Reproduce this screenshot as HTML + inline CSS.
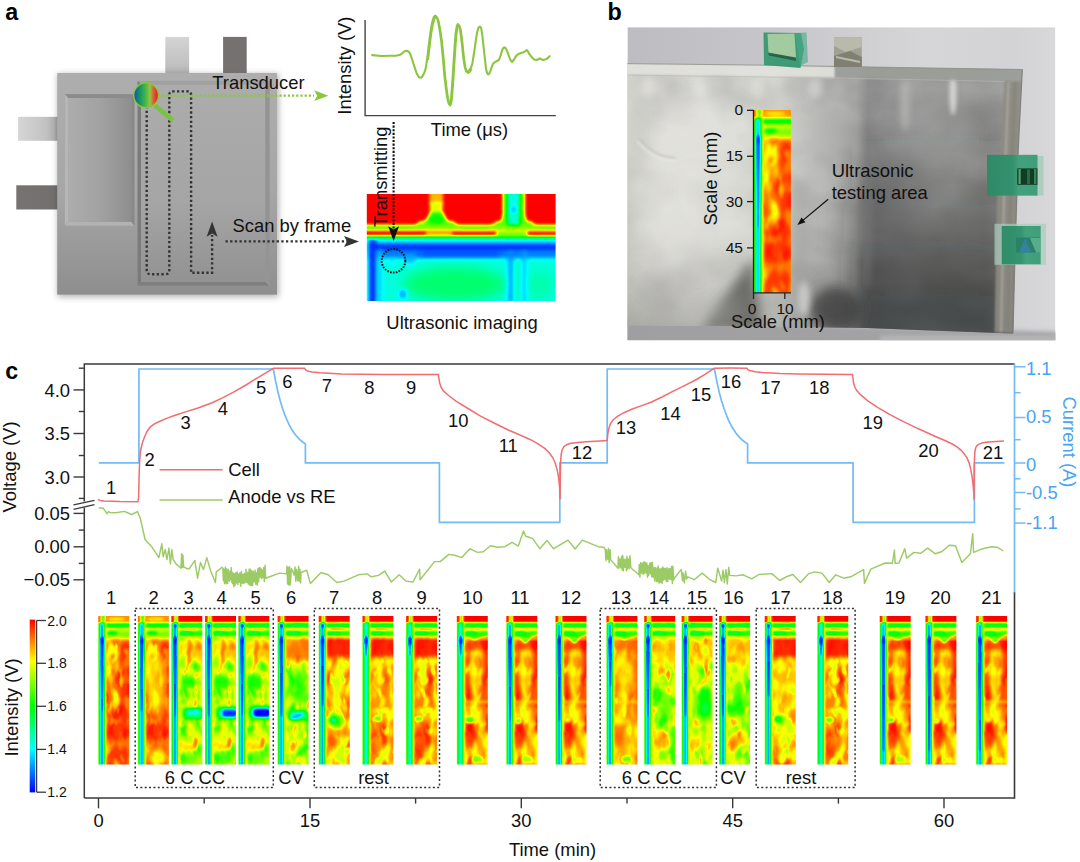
<!DOCTYPE html>
<html><head><meta charset="utf-8"><title>figure</title>
<style>
html,body{margin:0;padding:0;background:#fff;}
body{width:1080px;height:862px;overflow:hidden;}
svg{display:block;}
text{font-family:"Liberation Sans",sans-serif;}
</style></head><body>
<svg width="1080" height="862" viewBox="0 0 1080 862">
<defs>
<filter id="jet" color-interpolation-filters="sRGB" x="-5%" y="-5%" width="110%" height="110%">
<feGaussianBlur stdDeviation="0.7"/>
<feComponentTransfer><feFuncR type="table" tableValues="0 0 0 1 1"/><feFuncG type="table" tableValues="0 1 1 1 0"/><feFuncB type="table" tableValues="1 1 0 0 0"/><feFuncA type="linear" slope="50" intercept="0"/></feComponentTransfer>
</filter>
<filter id="jetA" color-interpolation-filters="sRGB" x="-5%" y="-5%" width="110%" height="110%">
<feGaussianBlur stdDeviation="1.3"/>
<feComponentTransfer><feFuncR type="table" tableValues="0 0 0 1 1"/><feFuncG type="table" tableValues="0 1 1 1 0"/><feFuncB type="table" tableValues="1 1 0 0 0"/><feFuncA type="linear" slope="50" intercept="0"/></feComponentTransfer>
</filter>
<filter id="jetB" color-interpolation-filters="sRGB" x="-5%" y="-5%" width="110%" height="110%">
<feGaussianBlur stdDeviation="0.85"/>
<feComponentTransfer><feFuncR type="table" tableValues="0 0 0 1 1"/><feFuncG type="table" tableValues="0 1 1 1 0"/><feFuncB type="table" tableValues="1 1 0 0 0"/><feFuncA type="linear" slope="50" intercept="0"/></feComponentTransfer>
</filter>
<filter id="b1" x="-50%" y="-50%" width="200%" height="200%"><feGaussianBlur stdDeviation="1"/></filter>
<filter id="b2" x="-50%" y="-50%" width="200%" height="200%"><feGaussianBlur stdDeviation="2"/></filter>
<filter id="b3" x="-50%" y="-50%" width="200%" height="200%"><feGaussianBlur stdDeviation="3"/></filter>
<filter id="b6" x="-50%" y="-50%" width="200%" height="200%"><feGaussianBlur stdDeviation="6"/></filter>
<filter id="b12" x="-50%" y="-50%" width="200%" height="200%"><feGaussianBlur stdDeviation="12"/></filter>
<filter id="b20" x="-50%" y="-50%" width="200%" height="200%"><feGaussianBlur stdDeviation="20"/></filter>
<linearGradient id="cbar" x1="0" y1="1" x2="0" y2="0"><stop offset="0" stop-color="#0000ff"/><stop offset="0.25" stop-color="#00ffff"/><stop offset="0.5" stop-color="#00ff00"/><stop offset="0.76" stop-color="#ffff00"/><stop offset="1" stop-color="#ff0000"/></linearGradient>
<clipPath id="tclip"><rect x="0" y="0" width="31" height="148.4"/></clipPath>
<linearGradient id="bodyg" x1="0" y1="0" x2="0" y2="1"><stop offset="0" stop-color="#aeaeae"/><stop offset="0.55" stop-color="#a6a6a6"/><stop offset="1" stop-color="#8e8e8e"/></linearGradient>
<linearGradient id="lpanel" x1="0" y1="0" x2="1" y2="0"><stop offset="0" stop-color="#adadad"/><stop offset="0.5" stop-color="#a2a2a2"/><stop offset="1" stop-color="#8e8e8e"/></linearGradient>
<linearGradient id="rpanel" x1="0" y1="0" x2="0" y2="1"><stop offset="0" stop-color="#acacac"/><stop offset="0.6" stop-color="#a5a5a5"/><stop offset="1" stop-color="#929292"/></linearGradient>
<linearGradient id="ltab" x1="0" y1="0" x2="1" y2="0"><stop offset="0" stop-color="#d6d6d6"/><stop offset="0.7" stop-color="#c2c2c2"/><stop offset="0.9" stop-color="#b0b0b0"/><stop offset="1" stop-color="#9c9c9c"/></linearGradient>
<linearGradient id="ttab" x1="0" y1="0" x2="0" y2="1"><stop offset="0" stop-color="#d4d4d4"/><stop offset="0.7" stop-color="#c2c2c2"/><stop offset="1" stop-color="#b4b4b4"/></linearGradient>
<linearGradient id="dtab" x1="0" y1="0" x2="1" y2="0"><stop offset="0" stop-color="#777373"/><stop offset="0.85" stop-color="#736f6f"/><stop offset="1" stop-color="#666262"/></linearGradient>
<linearGradient id="lens" x1="0" y1="0" x2="1" y2="0"><stop offset="0.05" stop-color="#0a62a4"/><stop offset="0.3" stop-color="#1fa055"/><stop offset="0.5" stop-color="#4fb848"/><stop offset="0.66" stop-color="#94c83d"/><stop offset="0.78" stop-color="#d9683a"/><stop offset="0.95" stop-color="#e6232a"/></linearGradient>
<clipPath id="aclip"><rect x="366.8" y="194.1" width="188.8" height="106.8"/></clipPath>
<clipPath id="bclip"><rect x="627.4" y="27.2" width="428.0000000000001" height="313.1"/></clipPath>
<linearGradient id="tableg" x1="0" y1="0" x2="1" y2="0"><stop offset="0" stop-color="#bdbcc0"/><stop offset="0.35" stop-color="#c7c6ca"/><stop offset="0.7" stop-color="#d6d6d8"/><stop offset="0.9" stop-color="#d3d3d5"/><stop offset="1" stop-color="#d8d8da"/></linearGradient>
<linearGradient id="pouchg" gradientUnits="userSpaceOnUse" x1="627" y1="0" x2="1022" y2="0"><stop offset="0" stop-color="#d4d4ce"/><stop offset="0.10" stop-color="#dddcd7"/><stop offset="0.30" stop-color="#dbdbd5"/><stop offset="0.385" stop-color="#d3d3ce"/><stop offset="0.425" stop-color="#c4c4c0"/><stop offset="0.47" stop-color="#b7b7b4"/><stop offset="0.53" stop-color="#a9a9a7"/><stop offset="0.58" stop-color="#9f9f9d"/><stop offset="0.61" stop-color="#838383"/><stop offset="0.66" stop-color="#8b8b8b"/><stop offset="0.78" stop-color="#919190"/><stop offset="0.9" stop-color="#8a8a89"/><stop offset="1" stop-color="#979893"/></linearGradient>
<linearGradient id="pouchv" x1="0" y1="0" x2="0" y2="1"><stop offset="0" stop-color="#fff" stop-opacity="0.10"/><stop offset="0.45" stop-color="#fff" stop-opacity="0"/><stop offset="0.7" stop-color="#000" stop-opacity="0.05"/><stop offset="1" stop-color="#000" stop-opacity="0.22"/></linearGradient>
<linearGradient id="tape" x1="0" y1="0" x2="1" y2="0"><stop offset="0" stop-color="#2a8a66"/><stop offset="0.5" stop-color="#2f916c"/><stop offset="0.62" stop-color="#3d9f79"/><stop offset="1" stop-color="#3b9b76"/></linearGradient>
<linearGradient id="rdark" gradientUnits="userSpaceOnUse" x1="0" y1="90" x2="0" y2="335"><stop offset="0" stop-color="#2a2c2c" stop-opacity="0"/><stop offset="0.25" stop-color="#2a2c2c" stop-opacity="0.10"/><stop offset="0.45" stop-color="#2a2c2c" stop-opacity="0.22"/><stop offset="0.65" stop-color="#2a2c2c" stop-opacity="0.42"/><stop offset="0.85" stop-color="#2a2c2c" stop-opacity="0.56"/><stop offset="1" stop-color="#2a2c2c" stop-opacity="0.60"/></linearGradient>
<filter id="wr" x="0" y="0" width="1" height="1" color-interpolation-filters="sRGB"><feTurbulence type="fractalNoise" baseFrequency="0.012 0.02" numOctaves="3" seed="5"/><feColorMatrix type="matrix" values="0 0 0 0 1  0 0 0 0 1  0 0 0 0 1  1.6 0 0 0 -0.62"/></filter>
<filter id="wd" x="0" y="0" width="1" height="1" color-interpolation-filters="sRGB"><feTurbulence type="fractalNoise" baseFrequency="0.014 0.018" numOctaves="3" seed="9"/><feColorMatrix type="matrix" values="0 0 0 0 0.2  0 0 0 0 0.2  0 0 0 0 0.2  0 1.6 0 0 -0.66"/></filter>
<filter id="n0" x="0" y="0" width="1" height="1" color-interpolation-filters="sRGB"><feTurbulence type="fractalNoise" baseFrequency="0.14 0.075" numOctaves="1" seed="3"/><feColorMatrix type="matrix" values="0 0 0 0 0.750  0 0 0 0 0.750  0 0 0 0 0.750  4 0 0 0 -1.640"/></filter>
<filter id="n1" x="0" y="0" width="1" height="1" color-interpolation-filters="sRGB"><feTurbulence type="fractalNoise" baseFrequency="0.11 0.055" numOctaves="1" seed="4"/><feColorMatrix type="matrix" values="0 0 0 0 1.000  0 0 0 0 1.000  0 0 0 0 1.000  0 4 0 0 -2.120"/></filter>
<filter id="n2" x="0" y="0" width="1" height="1" color-interpolation-filters="sRGB"><feTurbulence type="fractalNoise" baseFrequency="0.19 0.1" numOctaves="1" seed="5"/><feColorMatrix type="matrix" values="0 0 0 0 0.700  0 0 0 0 0.700  0 0 0 0 0.700  0 0 4 0 -2.240"/></filter>
<filter id="n3" x="0" y="0" width="1" height="1" color-interpolation-filters="sRGB"><feTurbulence type="fractalNoise" baseFrequency="0.12 0.07" numOctaves="1" seed="11"/><feColorMatrix type="matrix" values="0 0 0 0 0.530  0 0 0 0 0.530  0 0 0 0 0.530  4 0 0 0 -1.840"/></filter>
<filter id="n4" x="0" y="0" width="1" height="1" color-interpolation-filters="sRGB"><feTurbulence type="fractalNoise" baseFrequency="0.14 0.08" numOctaves="1" seed="12"/><feColorMatrix type="matrix" values="0 0 0 0 0.900  0 0 0 0 0.900  0 0 0 0 0.900  0 4 0 0 -2.160"/></filter>
<filter id="n5" x="0" y="0" width="1" height="1" color-interpolation-filters="sRGB"><feTurbulence type="fractalNoise" baseFrequency="0.2 0.11" numOctaves="1" seed="13"/><feColorMatrix type="matrix" values="0 0 0 0 0.620  0 0 0 0 0.620  0 0 0 0 0.620  0 0 4 0 -2.200"/></filter>
<filter id="n6" x="0" y="0" width="1" height="1" color-interpolation-filters="sRGB"><feTurbulence type="fractalNoise" baseFrequency="0.12 0.07" numOctaves="1" seed="12"/><feColorMatrix type="matrix" values="0 0 0 0 0.530  0 0 0 0 0.530  0 0 0 0 0.530  4 0 0 0 -1.840"/></filter>
<filter id="n7" x="0" y="0" width="1" height="1" color-interpolation-filters="sRGB"><feTurbulence type="fractalNoise" baseFrequency="0.14 0.08" numOctaves="1" seed="13"/><feColorMatrix type="matrix" values="0 0 0 0 0.900  0 0 0 0 0.900  0 0 0 0 0.900  0 4 0 0 -2.160"/></filter>
<filter id="n8" x="0" y="0" width="1" height="1" color-interpolation-filters="sRGB"><feTurbulence type="fractalNoise" baseFrequency="0.2 0.11" numOctaves="1" seed="14"/><feColorMatrix type="matrix" values="0 0 0 0 0.620  0 0 0 0 0.620  0 0 0 0 0.620  0 0 4 0 -2.200"/></filter>
<filter id="n9" x="0" y="0" width="1" height="1" color-interpolation-filters="sRGB"><feTurbulence type="fractalNoise" baseFrequency="0.14 0.075" numOctaves="1" seed="21"/><feColorMatrix type="matrix" values="0 0 0 0 0.740  0 0 0 0 0.740  0 0 0 0 0.740  4 0 0 0 -1.600"/></filter>
<filter id="n10" x="0" y="0" width="1" height="1" color-interpolation-filters="sRGB"><feTurbulence type="fractalNoise" baseFrequency="0.11 0.055" numOctaves="1" seed="22"/><feColorMatrix type="matrix" values="0 0 0 0 1.000  0 0 0 0 1.000  0 0 0 0 1.000  0 4 0 0 -2.160"/></filter>
<filter id="n11" x="0" y="0" width="1" height="1" color-interpolation-filters="sRGB"><feTurbulence type="fractalNoise" baseFrequency="0.19 0.1" numOctaves="1" seed="23"/><feColorMatrix type="matrix" values="0 0 0 0 0.680  0 0 0 0 0.680  0 0 0 0 0.680  0 0 4 0 -2.200"/></filter>
<filter id="n12" x="0" y="0" width="1" height="1" color-interpolation-filters="sRGB"><feTurbulence type="fractalNoise" baseFrequency="0.14 0.075" numOctaves="1" seed="22"/><feColorMatrix type="matrix" values="0 0 0 0 0.740  0 0 0 0 0.740  0 0 0 0 0.740  4 0 0 0 -1.600"/></filter>
<filter id="n13" x="0" y="0" width="1" height="1" color-interpolation-filters="sRGB"><feTurbulence type="fractalNoise" baseFrequency="0.11 0.055" numOctaves="1" seed="23"/><feColorMatrix type="matrix" values="0 0 0 0 1.000  0 0 0 0 1.000  0 0 0 0 1.000  0 4 0 0 -2.160"/></filter>
<filter id="n14" x="0" y="0" width="1" height="1" color-interpolation-filters="sRGB"><feTurbulence type="fractalNoise" baseFrequency="0.19 0.1" numOctaves="1" seed="24"/><feColorMatrix type="matrix" values="0 0 0 0 0.680  0 0 0 0 0.680  0 0 0 0 0.680  0 0 4 0 -2.200"/></filter>
<filter id="n15" x="0" y="0" width="1" height="1" color-interpolation-filters="sRGB"><feTurbulence type="fractalNoise" baseFrequency="0.14 0.075" numOctaves="1" seed="31"/><feColorMatrix type="matrix" values="0 0 0 0 0.750  0 0 0 0 0.750  0 0 0 0 0.750  4 0 0 0 -1.600"/></filter>
<filter id="n16" x="0" y="0" width="1" height="1" color-interpolation-filters="sRGB"><feTurbulence type="fractalNoise" baseFrequency="0.11 0.055" numOctaves="1" seed="32"/><feColorMatrix type="matrix" values="0 0 0 0 1.000  0 0 0 0 1.000  0 0 0 0 1.000  0 4 0 0 -2.200"/></filter>
<filter id="n17" x="0" y="0" width="1" height="1" color-interpolation-filters="sRGB"><feTurbulence type="fractalNoise" baseFrequency="0.19 0.1" numOctaves="1" seed="33"/><feColorMatrix type="matrix" values="0 0 0 0 0.700  0 0 0 0 0.700  0 0 0 0 0.700  0 0 4 0 -2.200"/></filter>
<filter id="n18" x="0" y="0" width="1" height="1" color-interpolation-filters="sRGB"><feTurbulence type="fractalNoise" baseFrequency="0.14 0.075" numOctaves="1" seed="32"/><feColorMatrix type="matrix" values="0 0 0 0 0.750  0 0 0 0 0.750  0 0 0 0 0.750  4 0 0 0 -1.600"/></filter>
<filter id="n19" x="0" y="0" width="1" height="1" color-interpolation-filters="sRGB"><feTurbulence type="fractalNoise" baseFrequency="0.11 0.055" numOctaves="1" seed="33"/><feColorMatrix type="matrix" values="0 0 0 0 1.000  0 0 0 0 1.000  0 0 0 0 1.000  0 4 0 0 -2.200"/></filter>
<filter id="n20" x="0" y="0" width="1" height="1" color-interpolation-filters="sRGB"><feTurbulence type="fractalNoise" baseFrequency="0.19 0.1" numOctaves="1" seed="34"/><feColorMatrix type="matrix" values="0 0 0 0 0.700  0 0 0 0 0.700  0 0 0 0 0.700  0 0 4 0 -2.200"/></filter>
<filter id="n21" x="0" y="0" width="1" height="1" color-interpolation-filters="sRGB"><feTurbulence type="fractalNoise" baseFrequency="0.12 0.07" numOctaves="1" seed="41"/><feColorMatrix type="matrix" values="0 0 0 0 0.530  0 0 0 0 0.530  0 0 0 0 0.530  4 0 0 0 -1.840"/></filter>
<filter id="n22" x="0" y="0" width="1" height="1" color-interpolation-filters="sRGB"><feTurbulence type="fractalNoise" baseFrequency="0.14 0.08" numOctaves="1" seed="42"/><feColorMatrix type="matrix" values="0 0 0 0 0.900  0 0 0 0 0.900  0 0 0 0 0.900  0 4 0 0 -2.160"/></filter>
<filter id="n23" x="0" y="0" width="1" height="1" color-interpolation-filters="sRGB"><feTurbulence type="fractalNoise" baseFrequency="0.2 0.11" numOctaves="1" seed="43"/><feColorMatrix type="matrix" values="0 0 0 0 0.620  0 0 0 0 0.620  0 0 0 0 0.620  0 0 4 0 -2.200"/></filter>
<filter id="n24" x="0" y="0" width="1" height="1" color-interpolation-filters="sRGB"><feTurbulence type="fractalNoise" baseFrequency="0.12 0.07" numOctaves="1" seed="42"/><feColorMatrix type="matrix" values="0 0 0 0 0.530  0 0 0 0 0.530  0 0 0 0 0.530  4 0 0 0 -1.840"/></filter>
<filter id="n25" x="0" y="0" width="1" height="1" color-interpolation-filters="sRGB"><feTurbulence type="fractalNoise" baseFrequency="0.14 0.08" numOctaves="1" seed="43"/><feColorMatrix type="matrix" values="0 0 0 0 0.900  0 0 0 0 0.900  0 0 0 0 0.900  0 4 0 0 -2.160"/></filter>
<filter id="n26" x="0" y="0" width="1" height="1" color-interpolation-filters="sRGB"><feTurbulence type="fractalNoise" baseFrequency="0.2 0.11" numOctaves="1" seed="44"/><feColorMatrix type="matrix" values="0 0 0 0 0.620  0 0 0 0 0.620  0 0 0 0 0.620  0 0 4 0 -2.200"/></filter>
<filter id="n27" x="0" y="0" width="1" height="1" color-interpolation-filters="sRGB"><feTurbulence type="fractalNoise" baseFrequency="0.12 0.07" numOctaves="1" seed="43"/><feColorMatrix type="matrix" values="0 0 0 0 0.530  0 0 0 0 0.530  0 0 0 0 0.530  4 0 0 0 -1.840"/></filter>
<filter id="n28" x="0" y="0" width="1" height="1" color-interpolation-filters="sRGB"><feTurbulence type="fractalNoise" baseFrequency="0.14 0.08" numOctaves="1" seed="44"/><feColorMatrix type="matrix" values="0 0 0 0 0.900  0 0 0 0 0.900  0 0 0 0 0.900  0 4 0 0 -2.160"/></filter>
<filter id="n29" x="0" y="0" width="1" height="1" color-interpolation-filters="sRGB"><feTurbulence type="fractalNoise" baseFrequency="0.2 0.11" numOctaves="1" seed="45"/><feColorMatrix type="matrix" values="0 0 0 0 0.620  0 0 0 0 0.620  0 0 0 0 0.620  0 0 4 0 -2.200"/></filter>
<filter id="n30" x="0" y="0" width="1" height="1" color-interpolation-filters="sRGB"><feTurbulence type="fractalNoise" baseFrequency="0.14 0.075" numOctaves="1" seed="23"/><feColorMatrix type="matrix" values="0 0 0 0 0.740  0 0 0 0 0.740  0 0 0 0 0.740  4 0 0 0 -1.600"/></filter>
<filter id="n31" x="0" y="0" width="1" height="1" color-interpolation-filters="sRGB"><feTurbulence type="fractalNoise" baseFrequency="0.11 0.055" numOctaves="1" seed="24"/><feColorMatrix type="matrix" values="0 0 0 0 1.000  0 0 0 0 1.000  0 0 0 0 1.000  0 4 0 0 -2.160"/></filter>
<filter id="n32" x="0" y="0" width="1" height="1" color-interpolation-filters="sRGB"><feTurbulence type="fractalNoise" baseFrequency="0.19 0.1" numOctaves="1" seed="25"/><feColorMatrix type="matrix" values="0 0 0 0 0.680  0 0 0 0 0.680  0 0 0 0 0.680  0 0 4 0 -2.200"/></filter>
<linearGradient id="stripe" gradientUnits="userSpaceOnUse" x1="-0.5" y1="0" x2="9.5" y2="0"><stop offset="0.000" stop-color="rgb(163,163,163)" stop-opacity="1"/><stop offset="0.090" stop-color="rgb(145,145,145)" stop-opacity="1"/><stop offset="0.190" stop-color="rgb(120,120,120)" stop-opacity="1"/><stop offset="0.290" stop-color="rgb(69,69,69)" stop-opacity="1"/><stop offset="0.360" stop-color="rgb(43,43,43)" stop-opacity="1"/><stop offset="0.490" stop-color="rgb(43,43,43)" stop-opacity="1"/><stop offset="0.560" stop-color="rgb(69,69,69)" stop-opacity="1"/><stop offset="0.630" stop-color="rgb(117,117,117)" stop-opacity="1"/><stop offset="0.700" stop-color="rgb(153,153,153)" stop-opacity="1"/><stop offset="0.780" stop-color="rgb(184,184,184)" stop-opacity="0.7"/><stop offset="1.000" stop-color="rgb(199,199,199)" stop-opacity="0"/></linearGradient>
<linearGradient id="stripeC" gradientUnits="userSpaceOnUse" x1="-0.5" y1="0" x2="9.5" y2="0"><stop offset="0.000" stop-color="rgb(163,163,163)" stop-opacity="1"/><stop offset="0.090" stop-color="rgb(145,145,145)" stop-opacity="1"/><stop offset="0.190" stop-color="rgb(120,120,120)" stop-opacity="1"/><stop offset="0.290" stop-color="rgb(97,97,97)" stop-opacity="1"/><stop offset="0.360" stop-color="rgb(71,71,71)" stop-opacity="1"/><stop offset="0.490" stop-color="rgb(71,71,71)" stop-opacity="1"/><stop offset="0.560" stop-color="rgb(97,97,97)" stop-opacity="1"/><stop offset="0.630" stop-color="rgb(117,117,117)" stop-opacity="1"/><stop offset="0.700" stop-color="rgb(153,153,153)" stop-opacity="1"/><stop offset="0.780" stop-color="rgb(184,184,184)" stop-opacity="0.7"/><stop offset="1.000" stop-color="rgb(199,199,199)" stop-opacity="0"/></linearGradient>
</defs>
<g clip-path="url(#bclip)">
<rect x="627.4" y="27.2" width="428.0000000000001" height="313.1" fill="url(#tableg)"/>
<path d="M620,320 L830,326 L1060,332 L1060,346 L620,346 Z" fill="#9a9a9d" opacity="0.85" filter="url(#b2)"/>
<rect x="880" y="335" width="190" height="10" fill="#b8b8ba" opacity="0.8" filter="url(#b2)"/>
<path d="M620,63.4 L760,65 L900,67.4 L1022.5,69.4 L1018.2,150 L1014.6,270 L1013,333.5 L930,330.5 L867,328 L750,326.6 L620,325.3 Z" fill="url(#pouchg)"/>
<path d="M620,63.4 L760,65 L900,67.4 L1022.5,69.4 L1018.2,150 L1014.6,270 L1013,333.5 L930,330.5 L867,328 L750,326.6 L620,325.3 Z" fill="url(#pouchv)"/>
<clipPath id="pclip"><path d="M620,63.4 L760,65 L900,67.4 L1022.5,69.4 L1018.2,150 L1014.6,270 L1013,333.5 L930,330.5 L867,328 L750,326.6 L620,325.3 Z"/></clipPath>
<g clip-path="url(#pclip)">
<rect x="627.4" y="27.2" width="428.0000000000001" height="313.1" filter="url(#wr)" opacity="0.22"/>
<rect x="627.4" y="27.2" width="428.0000000000001" height="313.1" filter="url(#wd)" opacity="0.22"/>
<ellipse cx="690" cy="195" rx="55" ry="80" fill="#e4e4df" opacity="0.55" filter="url(#b20)"/>
<rect x="852" y="80" width="160" height="270" fill="url(#rdark)" filter="url(#b12)"/>
<ellipse cx="836" cy="309" rx="26" ry="22" fill="#3c3d3d" opacity="0.8" filter="url(#b6)"/>
<path d="M752,258 L762,330 L700,330 L728,292 Z" fill="#50504e" opacity="0.75" filter="url(#b6)"/>
<ellipse cx="868" cy="200" rx="4" ry="90" fill="#7c7c7c" opacity="0.5" filter="url(#b3)"/>
<ellipse cx="935" cy="130" rx="38" ry="40" fill="#a6a8a6" opacity="0.45" filter="url(#b12)"/>
<ellipse cx="953" cy="95" rx="3.5" ry="20" fill="#e6e6e4" opacity="0.8" filter="url(#b2)"/>
<ellipse cx="905" cy="105" rx="5" ry="26" fill="#c4c4c2" opacity="0.55" filter="url(#b3)"/>
<ellipse cx="804" cy="299" rx="6" ry="17" fill="#d8d8d4" opacity="0.75" filter="url(#b3)"/>
<ellipse cx="690" cy="312" rx="55" ry="12" fill="#bdbdb8" opacity="0.55" filter="url(#b12)"/>
<ellipse cx="640" cy="130" rx="10" ry="40" fill="#c2c2bd" opacity="0.5" filter="url(#b6)"/>
<ellipse cx="800" cy="230" rx="10" ry="50" fill="#8f8f8d" opacity="0.35" filter="url(#b6)"/>
<ellipse cx="648" cy="88" rx="7" ry="10" fill="#ecece7" opacity="0.38" filter="url(#b3)"/>
<ellipse cx="672" cy="88" rx="7" ry="10" fill="#b9b9b4" opacity="0.38" filter="url(#b3)"/>
<ellipse cx="700" cy="88" rx="7" ry="10" fill="#ecece7" opacity="0.38" filter="url(#b3)"/>
<ellipse cx="727" cy="88" rx="7" ry="10" fill="#b9b9b4" opacity="0.38" filter="url(#b3)"/>
<ellipse cx="757" cy="88" rx="7" ry="10" fill="#ecece7" opacity="0.38" filter="url(#b3)"/>
<ellipse cx="790" cy="88" rx="7" ry="10" fill="#b9b9b4" opacity="0.38" filter="url(#b3)"/>
<ellipse cx="815" cy="88" rx="7" ry="10" fill="#ecece7" opacity="0.38" filter="url(#b3)"/>
<ellipse cx="838" cy="88" rx="7" ry="10" fill="#b9b9b4" opacity="0.38" filter="url(#b3)"/>
<path d="M639,139 C650,152 662,158 676,158" stroke="#bdbdb8" stroke-width="2" fill="none" opacity="0.6" filter="url(#b1)"/>
<path d="M637,141 C649,155 662,161 676,161" stroke="#ecece8" stroke-width="2" fill="none" opacity="0.6" filter="url(#b1)"/>
<path d="M620,63.4 L760,65 L835,66.3 L835,77.5 L760,76 L620,74.2 Z" fill="#e2e2dd" opacity="0.9" filter="url(#b1)"/>
<path d="M835,66.3 L1022.5,69.4 L1022,81.5 L835,77.5 Z" fill="#9c9e99" opacity="0.85" filter="url(#b1)"/>
<path d="M835,78 L1005,81.5" stroke="#b9bab5" stroke-width="1.2" opacity="0.6"/>
<path d="M620,75 L835,78" stroke="#bdbdb8" stroke-width="1.2" opacity="0.7"/>
<path d="M1004.5,81 L1022,81.5 L1018.2,150 L1014.6,270 L1013,333 L994.5,332.5 L997,200 Z" fill="#8d8b82" opacity="0.9" filter="url(#b1)"/>
<path d="M1008.5,82 L1004,200 L1001,332" stroke="#b3b2aa" stroke-width="2.2" fill="none" opacity="0.7" filter="url(#b1)"/>
<path d="M1015,82 L1010.5,200 L1008,332" stroke="#7b7d78" stroke-width="1.6" fill="none" opacity="0.7" filter="url(#b1)"/>
</g>
<path d="M627,63.6 L760,65.1 L900,67.5 L1022.5,69.5" stroke="#8d8d8a" stroke-width="1" fill="none" opacity="0.8"/>
<path d="M1022.3,69.5 L1018.2,150 L1014.6,270 L1013,333" stroke="#7c7d79" stroke-width="1.2" fill="none" opacity="0.9"/>
<path d="M763.5,32.5 L801,33 L804,49 L800.5,68 L764,65 Z" fill="#32976f" opacity="0.92"/>
<path d="M767.5,34 L794.5,33.5 L796,58 L768.5,53.5 Z" fill="#a3cba0"/>
<path d="M768,52.5 L796,57.5 L796,61 L769,55.5 Z" fill="#1f5a44" opacity="0.85"/>
<path d="M795,33 L806.5,32.6 L808,62 L800,66 Z" fill="#4aa888" opacity="0.6"/>
<rect x="834" y="37.2" width="27.8" height="30" fill="#a1a193"/>
<path d="M834,37.2 H861.8 V47 L846,52 L834,46 Z" fill="#b9b9ac"/>
<path d="M834,56 L850,51 L861.8,57 V67 H834 Z" fill="#7b7c6f" opacity="0.9"/>
<path d="M836,57 L860,62" stroke="#c8c8bc" stroke-width="2" opacity="0.8"/>
<rect x="1017" y="156" width="26.5" height="39.5" fill="#9fcbb6" opacity="0.75"/>
<rect x="987" y="154.8" width="50.5" height="40.8" fill="url(#tape)" opacity="0.95"/>
<rect x="1017.2" y="168.4" width="20.2" height="16.4" fill="#123c26"/>
<rect x="1018.5" y="169" width="2.2" height="15" fill="#5fae78" opacity="0.9"/>
<rect x="1027" y="169.5" width="3" height="14.5" fill="#2f6e48" opacity="0.9"/>
<rect x="1034" y="169" width="2.4" height="15" fill="#3d8a5a" opacity="0.9"/>
<rect x="994.5" y="223.8" width="51.5" height="41" fill="#a9cdbd" opacity="0.7"/>
<rect x="1001.7" y="226" width="39" height="38.3" fill="url(#tape)" opacity="0.95"/>
<rect x="1016" y="237.5" width="24" height="15" fill="#2b806a"/>
<path d="M1019,252.5 L1025,238 L1031.5,252.5 Z" fill="#3382a6" opacity="0.9"/>
<path d="M1030,238 L1036,252.5 L1040,252.5 L1040,238 Z" fill="#5fb58e" opacity="0.85"/>
</g>
<g transform="translate(753.6,110.0) scale(1.2032,1.2318)" clip-path="url(#tclip)"><g filter="url(#jetB)">
<rect x="-4" y="-4" width="39.0" height="156.4" fill="rgb(227,227,227)"/>
<rect x="-3" y="-3" width="37.0" height="154.4" filter="url(#n0)"/>
<rect x="-3" y="-3" width="37.0" height="154.4" filter="url(#n1)"/>
<rect x="-3" y="-3" width="37.0" height="154.4" filter="url(#n2)"/>
<rect x="22" y="22" width="12" height="148.4" fill="rgb(255,255,255)" opacity="0.55" filter="url(#b2)"/>
<rect x="9" y="90" width="14" height="58.400000000000006" fill="rgb(255,255,255)" opacity="0.5" filter="url(#b3)"/>
<rect x="-4" y="-4" width="39.0" height="10.3" fill="rgb(219,219,219)"/>
<ellipse cx="18" cy="3" rx="9" ry="1.6" fill="rgb(189,189,189)" opacity="0.9" filter="url(#b1)"/>
<ellipse cx="5" cy="1.5" rx="2.0" ry="1.6" fill="rgb(153,153,153)" opacity="0.9" filter="url(#b1)"/>
<rect x="2" y="6.6" width="35.0" height="5.4" fill="rgb(140,140,140)" filter="url(#b1)"/>
<rect x="6" y="8.6" width="33.0" height="2.0" fill="rgb(102,102,102)" filter="url(#b1)"/>
<rect x="7" y="12.2" width="31.0" height="2.6" fill="rgb(189,189,189)" filter="url(#b1)"/>
<rect x="7" y="14" width="31.0" height="8" fill="rgb(153,153,153)" opacity="0.9" filter="url(#b2)"/>
<ellipse cx="14" cy="17" rx="6" ry="2.0" fill="rgb(117,117,117)" opacity="0.9" filter="url(#b1)"/>
<rect x="-0.5" y="6.5" width="10" height="148.4" fill="url(#stripe)"/>
<rect x="3.3" y="-2" width="2.8" height="10" fill="rgb(140,140,140)" filter="url(#b1)"/>
<rect x="-1" y="-2" width="2.0" height="9" fill="rgb(235,235,235)" filter="url(#b1)"/>
<path d="M3.9,19.5 C6.6,21 6.0,28 5.1,57.5 L4.4,95 L3.4,95 L2.7,57.5 C1.8,28 1.2,21 3.9,19.5 Z" fill="rgb(13,13,13)" filter="url(#b1)"/>
<ellipse cx="3.9" cy="24.5" rx="1.1" ry="3.6" fill="rgb(0,0,0)" filter="url(#b1)"/>
</g></g>
<path d="M753.5,110 V292.9 H791" fill="none" stroke="#222" stroke-width="1.3"/>
<path d="M747,110.3 H753.5" stroke="#222" stroke-width="1.3"/>
<path d="M747,156.3 H753.5" stroke="#222" stroke-width="1.3"/>
<path d="M747,201.6 H753.5" stroke="#222" stroke-width="1.3"/>
<path d="M747,247.9 H753.5" stroke="#222" stroke-width="1.3"/>
<path d="M753.5,292.9 V299" stroke="#222" stroke-width="1.3"/>
<path d="M784.8,292.9 V299" stroke="#222" stroke-width="1.3"/>
<path d="M828.2,199.3 L800.5,222.4" stroke="#111" stroke-width="1.2"/>
<path d="M797.4,225 L801.5,217.6 L805.4,222.3 Z" fill="#111"/>
<rect x="18.1" y="116.8" width="40" height="24" fill="url(#ltab)"/>
<rect x="16.3" y="185.3" width="42" height="24.2" fill="url(#dtab)"/>
<rect x="165.3" y="36.9" width="23.8" height="37" fill="url(#ttab)"/>
<rect x="223.1" y="36.9" width="23.6" height="37" fill="#757171"/>
<rect x="57.6" y="74" width="221" height="223" fill="#666" opacity="0.5" filter="url(#b3)"/>
<rect x="57.2" y="73" width="219.8" height="221.6" fill="url(#bodyg)"/>
<rect x="64.8" y="94.3" width="69.6" height="131.5" fill="#9b9b9b"/>
<path d="M64.8,94.3 H134.4 L131.2,98 H68 Z" fill="#8b8b8b"/>
<path d="M64.8,94.3 L68,98 V221.8 L64.8,225.8 Z" fill="#b6b6b6"/>
<path d="M64.8,225.8 L68,221.8 H131.2 L134.4,225.8 Z" fill="#b2b2b2"/>
<path d="M134.4,94.3 L131.2,98 V221.8 L134.4,225.8 Z" fill="#888"/>
<rect x="68" y="98" width="63.2" height="123.8" fill="url(#lpanel)"/>
<rect x="137.6" y="80.9" width="131.9" height="204.9" fill="#9a9a9a"/>
<path d="M137.6,80.9 H269.5 L265.2,84.6 H141.4 Z" fill="#a0a0a0"/>
<path d="M137.6,80.9 L141.4,84.6 V281.9 L137.6,285.8 Z" fill="#7b7b7b"/>
<path d="M137.6,285.8 L141.4,281.9 H265.2 L269.5,285.8 Z" fill="#7f7f7f"/>
<path d="M269.5,80.9 L265.2,84.6 V281.9 L269.5,285.8 Z" fill="#949494"/>
<rect x="141" y="84.6" width="124.2" height="197.3" fill="url(#rpanel)"/>
<path d="M146.7,106 V270.5 Q146.7,274.2 150.4,274.2 H165.6 Q169.3,274.2 169.3,270.5 V95 Q169.3,91.4 173,91.4 H187.5 Q191.1,91.4 191.1,95 V272.8 H212.1 V235" fill="none" stroke="#333" stroke-width="2.4" stroke-dasharray="2.3 2.35"/>
<path d="M212.1,221.5 L217.6,236.8 L212.1,233.6 L206.6,236.8 Z" fill="#333"/>
<path d="M225.5,241.4 H349" fill="none" stroke="#333" stroke-width="2.4" stroke-dasharray="2.3 2.35"/>
<path d="M359,241.4 L344,246.9 L347,241.4 L344,235.9 Z" fill="#333"/>
<path d="M155,105.5 L173,120.5" stroke="#7cc242" stroke-width="4.6"/>
<circle cx="146.1" cy="95.2" r="12.4" fill="url(#lens)" stroke="#8cc63f" stroke-width="1.4"/>
<path d="M161.8,95.7 H314" fill="none" stroke="#8cc63f" stroke-width="2.2" stroke-dasharray="2.2 2.0"/>
<path d="M328.4,95.7 L314.2,101.1 L317.2,95.7 L314.2,90.3 Z" fill="#8cc63f"/>
<path d="M365.1,20 V115.6 H555.8" fill="none" stroke="#444" stroke-width="1.4"/>
<polyline points="372.2,55.1 381.1,56.0 390.0,55.8 396.7,55.6 400.0,54.8 402.2,53.3 404.5,51.3 406.7,50.7 408.5,51.5 410.0,53.3 412.0,59.0 414.4,66.7 416.7,73.5 418.9,77.3 420.6,77.8 422.2,76.7 424.0,73.5 425.6,68.9 427.3,58.0 428.9,44.4 430.5,32.0 432.2,22.2 433.7,17.2 435.1,15.6 436.5,16.8 437.8,20.0 439.5,29.0 441.1,40.0 442.8,57.0 444.4,75.6 445.9,88.0 447.3,97.8 448.4,102.8 449.3,104.4 450.2,102.8 451.1,97.8 452.2,84.0 453.3,66.7 454.5,48.0 455.6,33.3 456.7,26.5 457.8,24.0 458.9,25.2 460.0,28.9 461.7,42.0 463.3,57.8 464.7,66.5 466.0,71.1 467.5,71.8 468.9,70.7 470.6,68.3 472.2,64.4 473.9,54.0 475.6,42.2 477.0,33.0 478.4,27.8 479.8,26.6 481.1,27.8 482.2,34.5 483.3,44.4 484.7,57.0 486.0,68.9 487.1,73.0 488.2,74.4 489.3,73.6 490.4,71.1 491.9,66.5 493.3,63.3 496.0,61.5 498.9,60.0 500.6,55.5 502.2,50.0 503.3,48.0 504.4,47.3 505.5,48.0 506.7,50.0 508.4,54.5 510.0,58.9 511.1,61.0 512.2,61.8 513.9,59.8 515.6,56.7 517.2,54.8 518.9,53.8 521.0,53.0 523.3,52.2 525.0,51.4 526.7,50.0 527.8,51.2 528.9,53.3 531.0,56.2 533.3,58.9 535.0,59.8 536.7,60.0 538.4,59.0 540.0,58.4 541.7,59.4 543.3,60.0 545.0,59.6 546.7,58.9 548.2,57.6 549.6,56.2" fill="none" stroke="#8cc63f" stroke-width="2.1" stroke-linejoin="round" stroke-linecap="round"/>
<polyline points="428.2,59.2 429.8,45.6 431.4,33.2 433.1,23.4 434.6,18.4 436.0,16.8 437.4,18.0 438.7,21.2 440.4,30.2 442.0,41.2 443.7,58.2 445.3,76.8 446.8,89.2 448.2,99.0 449.3,104.0 450.2,105.6 451.1,104.0 452.0,99.0 453.1,85.2 454.2,67.9 455.4,49.2 456.5,34.5 457.6,27.7 458.7,25.2 459.8,26.4 460.9,30.1 462.6,43.2 464.2,59.0 465.6,67.7 466.9,72.3 468.4,73.0 469.8,71.9 471.5,69.5" fill="none" stroke="#8cc63f" stroke-width="1.8" stroke-linejoin="round" stroke-linecap="round"/>
<g clip-path="url(#aclip)"><g filter="url(#jetA)"><rect x="360" y="188" width="200" height="120" fill="rgb(73,73,73)"/>
<ellipse cx="455" cy="284" rx="52" ry="17" fill="rgb(103,103,103)" opacity="0.9" filter="url(#b6)"/>
<ellipse cx="540" cy="285" rx="12" ry="14" fill="rgb(92,92,92)" opacity="0.7" filter="url(#b6)"/>
<rect x="360" y="188" width="200" height="38" fill="rgb(255,255,255)"/>
<rect x="429.5" y="190" width="13.5" height="14" fill="rgb(209,209,209)" filter="url(#b1)"/>
<rect x="430" y="202" width="12.5" height="9" fill="rgb(184,184,184)" filter="url(#b1)"/>
<path d="M408,230 C415,228 417,223 421,221.5 C425,223 428,218 431,211 L442,211 C445,218 448,223 452,221.5 C456,223 458,228 465,230 Z" fill="rgb(145,145,145)" filter="url(#b1)"/>
<ellipse cx="436.5" cy="219.5" rx="7.5" ry="5.5" fill="rgb(128,128,128)" filter="url(#b1)"/>
<ellipse cx="422.5" cy="223.5" rx="1.6" ry="1.4" fill="rgb(199,199,199)" opacity="0.9" filter="url(#b1)"/>
<rect x="503" y="190" width="21.5" height="38" fill="rgb(143,143,143)" filter="url(#b1)"/>
<rect x="507.8" y="190" width="11.6" height="42" fill="rgb(69,69,69)" filter="url(#b1)"/>
<rect x="510.5" y="206" width="6" height="14" fill="rgb(51,51,51)" opacity="0.8" filter="url(#b1)"/>
<path d="M485,230 C492,228 494,223 497.5,221.5 C500,223 502,221 504,215 L524,215 C526,221 527.5,223 530,221.5 C533.5,223 536,228 543,230 Z" fill="rgb(145,145,145)" filter="url(#b1)"/>
<rect x="507.8" y="214" width="11.6" height="15" fill="rgb(76,76,76)" filter="url(#b1)"/>
<rect x="360" y="225.0" width="200" height="4.4" fill="rgb(161,161,161)" filter="url(#b1)"/>
<rect x="360" y="229.2" width="200" height="2.2" fill="rgb(189,189,189)"/>
<rect x="360" y="231.0" width="200" height="5.0" fill="rgb(255,255,255)" filter="url(#b1)"/>
<rect x="360" y="231.6" width="66" height="3.8" fill="rgb(255,255,255)"/>
<rect x="452" y="232.0" width="42" height="3.4" fill="rgb(255,255,255)"/>
<rect x="528" y="232.4" width="32" height="3.2" fill="rgb(255,255,255)"/>
<rect x="426" y="231" width="26" height="5" fill="rgb(204,204,204)" opacity="0.8" filter="url(#b1)"/>
<rect x="497" y="230.8" width="30" height="5.4" fill="rgb(153,153,153)" opacity="0.95" filter="url(#b1)"/>
<rect x="360" y="236.4" width="200" height="2.8" fill="rgb(133,133,133)" filter="url(#b1)"/>
<rect x="360" y="239.2" width="200" height="3.4" fill="rgb(71,71,71)" filter="url(#b1)"/>
<rect x="360" y="242.2" width="200" height="15" fill="rgb(33,33,33)" filter="url(#b2)"/>
<rect x="360" y="244.6" width="200" height="6.0" fill="rgb(13,13,13)" filter="url(#b1)"/>
<rect x="360" y="252.5" width="200" height="5" fill="rgb(31,31,31)" opacity="0.8" filter="url(#b2)"/>
<rect x="420" y="250" width="80" height="6" fill="rgb(13,13,13)" opacity="0.7" filter="url(#b2)"/>
<rect x="366" y="240" width="3.2" height="70" fill="rgb(76,76,76)" filter="url(#b1)"/>
<rect x="369.0" y="240" width="7.4" height="70" fill="rgb(15,15,15)" filter="url(#b1)"/>
<rect x="376.5" y="250" width="6" height="60" fill="rgb(51,51,51)" opacity="0.9" filter="url(#b2)"/>
<rect x="508" y="250" width="5.5" height="60" fill="rgb(36,36,36)" opacity="0.9" filter="url(#b2)"/>
<rect x="522" y="250" width="4.5" height="60" fill="rgb(43,43,43)" opacity="0.85" filter="url(#b2)"/>
<rect x="515" y="262" width="5" height="48" fill="rgb(84,84,84)" opacity="0.7" filter="url(#b2)"/>
<ellipse cx="403" cy="294" rx="4" ry="5" fill="rgb(41,41,41)" opacity="0.9" filter="url(#b1)"/>
<ellipse cx="410" cy="259" rx="6" ry="5" fill="rgb(41,41,41)" opacity="0.85" filter="url(#b2)"/>
<ellipse cx="392" cy="262" rx="4" ry="3.5" fill="rgb(56,56,56)" opacity="0.8" filter="url(#b2)"/></g></g>
<path d="M393.6,122 V229" fill="none" stroke="#111" stroke-width="2.1" stroke-dasharray="2.1 1.5"/>
<path d="M393.6,241 L388.2,226.2 L393.6,229.4 L399,226.2 Z" fill="#111"/>
<circle cx="393.5" cy="260.8" r="11.8" fill="none" stroke="#111" stroke-width="2" stroke-dasharray="1.6 1.3"/>
<g transform="translate(98.3,616.1)" clip-path="url(#tclip)"><g filter="url(#jet)">
<rect x="-4" y="-4" width="39.0" height="156.4" fill="rgb(227,227,227)"/>
<rect x="-3" y="-3" width="37.0" height="154.4" filter="url(#n0)"/>
<rect x="-3" y="-3" width="37.0" height="154.4" filter="url(#n1)"/>
<rect x="-3" y="-3" width="37.0" height="154.4" filter="url(#n2)"/>
<rect x="22" y="22" width="12" height="148.4" fill="rgb(255,255,255)" opacity="0.55" filter="url(#b2)"/>
<rect x="9" y="90" width="14" height="58.400000000000006" fill="rgb(255,255,255)" opacity="0.5" filter="url(#b3)"/>
<rect x="-4" y="-4" width="39.0" height="10.3" fill="rgb(219,219,219)"/>
<ellipse cx="18" cy="3" rx="9" ry="1.6" fill="rgb(189,189,189)" opacity="0.9" filter="url(#b1)"/>
<ellipse cx="5" cy="1.5" rx="2.0" ry="1.6" fill="rgb(153,153,153)" opacity="0.9" filter="url(#b1)"/>
<rect x="2" y="6.6" width="35.0" height="5.4" fill="rgb(140,140,140)" filter="url(#b1)"/>
<rect x="6" y="8.6" width="33.0" height="2.0" fill="rgb(102,102,102)" filter="url(#b1)"/>
<rect x="7" y="12.2" width="31.0" height="2.6" fill="rgb(189,189,189)" filter="url(#b1)"/>
<rect x="7" y="14" width="31.0" height="8" fill="rgb(153,153,153)" opacity="0.9" filter="url(#b2)"/>
<ellipse cx="14" cy="17" rx="6" ry="2.0" fill="rgb(117,117,117)" opacity="0.9" filter="url(#b1)"/>
<rect x="-0.5" y="6.5" width="10" height="148.4" fill="url(#stripe)"/>
<rect x="3.3" y="-2" width="2.8" height="10" fill="rgb(140,140,140)" filter="url(#b1)"/>
<rect x="-1" y="-2" width="2.0" height="9" fill="rgb(235,235,235)" filter="url(#b1)"/>
<path d="M3.9,19.5 C6.6,21 6.0,28 5.1,57.5 L4.4,95 L3.4,95 L2.7,57.5 C1.8,28 1.2,21 3.9,19.5 Z" fill="rgb(13,13,13)" filter="url(#b1)"/>
<ellipse cx="3.9" cy="24.5" rx="1.1" ry="3.6" fill="rgb(0,0,0)" filter="url(#b1)"/>
</g></g>
<g transform="translate(137.9,616.1)" clip-path="url(#tclip)"><g filter="url(#jet)">
<rect x="-4" y="-4" width="39.0" height="156.4" fill="rgb(227,227,227)"/>
<rect x="-3" y="-3" width="37.0" height="154.4" filter="url(#n0)"/>
<rect x="-3" y="-3" width="37.0" height="154.4" filter="url(#n1)"/>
<rect x="-3" y="-3" width="37.0" height="154.4" filter="url(#n2)"/>
<rect x="22" y="22" width="12" height="148.4" fill="rgb(255,255,255)" opacity="0.55" filter="url(#b2)"/>
<rect x="9" y="90" width="14" height="58.400000000000006" fill="rgb(255,255,255)" opacity="0.5" filter="url(#b3)"/>
<ellipse cx="20" cy="70" rx="8" ry="34" fill="rgb(189,189,189)" opacity="0.6" filter="url(#b3)"/>
<ellipse cx="12" cy="60" rx="3" ry="30" fill="rgb(194,194,194)" opacity="0.6" filter="url(#b2)"/>
<ellipse cx="20" cy="141" rx="9" ry="8" fill="rgb(168,168,168)" opacity="0.75" filter="url(#b3)"/>
<rect x="-4" y="-4" width="39.0" height="10.3" fill="rgb(219,219,219)"/>
<ellipse cx="18" cy="3" rx="9" ry="1.6" fill="rgb(189,189,189)" opacity="0.9" filter="url(#b1)"/>
<ellipse cx="5" cy="1.5" rx="2.0" ry="1.6" fill="rgb(153,153,153)" opacity="0.9" filter="url(#b1)"/>
<rect x="2" y="6.6" width="35.0" height="5.4" fill="rgb(140,140,140)" filter="url(#b1)"/>
<rect x="6" y="8.6" width="33.0" height="2.0" fill="rgb(102,102,102)" filter="url(#b1)"/>
<rect x="7" y="12.2" width="31.0" height="2.6" fill="rgb(189,189,189)" filter="url(#b1)"/>
<rect x="7" y="14" width="31.0" height="8" fill="rgb(153,153,153)" opacity="0.9" filter="url(#b2)"/>
<ellipse cx="14" cy="17" rx="6" ry="2.0" fill="rgb(117,117,117)" opacity="0.9" filter="url(#b1)"/>
<rect x="-0.5" y="6.5" width="10" height="148.4" fill="url(#stripe)"/>
<rect x="3.3" y="-2" width="2.8" height="10" fill="rgb(140,140,140)" filter="url(#b1)"/>
<rect x="-1" y="-2" width="2.0" height="9" fill="rgb(235,235,235)" filter="url(#b1)"/>
<path d="M3.9,19.5 C6.6,21 6.0,28 5.1,57.5 L4.4,95 L3.4,95 L2.7,57.5 C1.8,28 1.2,21 3.9,19.5 Z" fill="rgb(10,10,10)" filter="url(#b1)"/>
<ellipse cx="3.9" cy="24.5" rx="1.1" ry="3.6" fill="rgb(0,0,0)" filter="url(#b1)"/>
</g></g>
<g transform="translate(171.3,616.1)" clip-path="url(#tclip)"><g filter="url(#jet)">
<rect x="-4" y="-4" width="39.0" height="156.4" fill="rgb(184,184,184)"/>
<rect x="-3" y="-3" width="37.0" height="154.4" filter="url(#n3)"/>
<rect x="-3" y="-3" width="37.0" height="154.4" filter="url(#n4)"/>
<rect x="-3" y="-3" width="37.0" height="154.4" filter="url(#n5)"/>
<rect x="8" y="21" width="31.0" height="24" fill="rgb(230,230,230)" opacity="0.5" filter="url(#b3)"/>
<ellipse cx="18" cy="66" rx="8" ry="6" fill="rgb(128,128,128)" opacity="0.9" filter="url(#b2)"/>
<rect x="12" y="92" width="20" height="11" fill="rgb(92,92,92)" filter="url(#b2)" rx="3"/>
<ellipse cx="22" cy="96" rx="6" ry="3" fill="rgb(71,71,71)" filter="url(#b1)"/>
<ellipse cx="11" cy="128" rx="5" ry="9" fill="rgb(224,224,224)" opacity="0.6" filter="url(#b3)"/>
<ellipse cx="20" cy="143" rx="9" ry="6" fill="rgb(143,143,143)" opacity="0.7" filter="url(#b2)"/>
<rect x="-4" y="-4" width="39.0" height="10.3" fill="rgb(255,255,255)"/>
<rect x="2" y="6.6" width="35.0" height="5.4" fill="rgb(140,140,140)" filter="url(#b1)"/>
<rect x="6" y="8.6" width="33.0" height="2.0" fill="rgb(92,92,92)" filter="url(#b1)"/>
<rect x="7" y="12.2" width="31.0" height="2.6" fill="rgb(189,189,189)" filter="url(#b1)"/>
<rect x="13" y="12.6" width="14" height="1.6" fill="rgb(235,235,235)" filter="url(#b1)"/>
<rect x="7" y="14.8" width="31.0" height="5.0" fill="rgb(133,133,133)" filter="url(#b1)"/>
<ellipse cx="15" cy="17.2" rx="7" ry="1.3" fill="rgb(97,97,97)" opacity="0.9" filter="url(#b1)"/>
<rect x="8" y="20.2" width="31.0" height="2.0" fill="rgb(184,184,184)" opacity="0.8" filter="url(#b1)"/>
<rect x="-0.5" y="6.5" width="10" height="148.4" fill="url(#stripe)"/>
<rect x="3.3" y="-2" width="2.8" height="10" fill="rgb(140,140,140)" filter="url(#b1)"/>
<rect x="-1" y="-2" width="2.0" height="9" fill="rgb(235,235,235)" filter="url(#b1)"/>
<path d="M3.9,19.5 C6.6,21 6.0,28 5.1,60.0 L4.4,100 L3.4,100 L2.7,60.0 C1.8,28 1.2,21 3.9,19.5 Z" fill="rgb(8,8,8)" filter="url(#b1)"/>
<ellipse cx="3.9" cy="24.5" rx="1.1" ry="3.6" fill="rgb(0,0,0)" filter="url(#b1)"/>
<ellipse cx="4.2" cy="9.6" rx="2.3" ry="1.8" fill="rgb(5,5,5)" opacity="0.9" filter="url(#b1)"/>
</g></g>
<g transform="translate(205.0,616.1)" clip-path="url(#tclip)"><g filter="url(#jet)">
<rect x="-4" y="-4" width="39.0" height="156.4" fill="rgb(184,184,184)"/>
<rect x="-3" y="-3" width="37.0" height="154.4" filter="url(#n3)"/>
<rect x="-3" y="-3" width="37.0" height="154.4" filter="url(#n4)"/>
<rect x="-3" y="-3" width="37.0" height="154.4" filter="url(#n5)"/>
<rect x="8" y="21" width="31.0" height="24" fill="rgb(230,230,230)" opacity="0.5" filter="url(#b3)"/>
<ellipse cx="17" cy="66" rx="9" ry="7" fill="rgb(128,128,128)" opacity="0.9" filter="url(#b2)"/>
<rect x="12" y="91" width="21" height="12" fill="rgb(84,84,84)" filter="url(#b2)" rx="3"/>
<rect x="17" y="93.5" width="15" height="7.5" fill="rgb(8,8,8)" filter="url(#b1)" rx="3"/>
<ellipse cx="12" cy="125" rx="6" ry="10" fill="rgb(224,224,224)" opacity="0.6" filter="url(#b3)"/>
<ellipse cx="20" cy="142" rx="9" ry="7" fill="rgb(133,133,133)" opacity="0.75" filter="url(#b2)"/>
<rect x="-4" y="-4" width="39.0" height="10.3" fill="rgb(255,255,255)"/>
<rect x="2" y="6.6" width="35.0" height="5.4" fill="rgb(140,140,140)" filter="url(#b1)"/>
<rect x="6" y="8.6" width="33.0" height="2.0" fill="rgb(92,92,92)" filter="url(#b1)"/>
<rect x="7" y="12.2" width="31.0" height="2.6" fill="rgb(189,189,189)" filter="url(#b1)"/>
<rect x="13" y="12.6" width="14" height="1.6" fill="rgb(235,235,235)" filter="url(#b1)"/>
<rect x="7" y="14.8" width="31.0" height="5.0" fill="rgb(133,133,133)" filter="url(#b1)"/>
<ellipse cx="15" cy="17.2" rx="7" ry="1.3" fill="rgb(97,97,97)" opacity="0.9" filter="url(#b1)"/>
<rect x="8" y="20.2" width="31.0" height="2.0" fill="rgb(184,184,184)" opacity="0.8" filter="url(#b1)"/>
<rect x="-0.5" y="6.5" width="10" height="148.4" fill="url(#stripe)"/>
<rect x="3.3" y="-2" width="2.8" height="10" fill="rgb(140,140,140)" filter="url(#b1)"/>
<rect x="-1" y="-2" width="2.0" height="9" fill="rgb(235,235,235)" filter="url(#b1)"/>
<path d="M3.9,19.5 C6.6,21 6.0,28 5.1,60.0 L4.4,100 L3.4,100 L2.7,60.0 C1.8,28 1.2,21 3.9,19.5 Z" fill="rgb(8,8,8)" filter="url(#b1)"/>
<ellipse cx="3.9" cy="24.5" rx="1.1" ry="3.6" fill="rgb(0,0,0)" filter="url(#b1)"/>
<ellipse cx="4.2" cy="9.6" rx="2.3" ry="1.8" fill="rgb(5,5,5)" filter="url(#b1)"/>
</g></g>
<g transform="translate(238.3,616.1)" clip-path="url(#tclip)"><g filter="url(#jet)">
<rect x="-4" y="-4" width="39.0" height="156.4" fill="rgb(184,184,184)"/>
<rect x="-3" y="-3" width="37.0" height="154.4" filter="url(#n3)"/>
<rect x="-3" y="-3" width="37.0" height="154.4" filter="url(#n4)"/>
<rect x="-3" y="-3" width="37.0" height="154.4" filter="url(#n5)"/>
<rect x="8" y="21" width="31.0" height="24" fill="rgb(230,230,230)" opacity="0.5" filter="url(#b3)"/>
<ellipse cx="16" cy="66" rx="9" ry="8" fill="rgb(128,128,128)" opacity="0.9" filter="url(#b2)"/>
<rect x="11" y="90" width="22" height="13" fill="rgb(84,84,84)" filter="url(#b2)" rx="3"/>
<rect x="15" y="92.5" width="17" height="8.5" fill="rgb(5,5,5)" filter="url(#b1)" rx="3"/>
<ellipse cx="12" cy="127" rx="6" ry="10" fill="rgb(224,224,224)" opacity="0.6" filter="url(#b3)"/>
<ellipse cx="20" cy="142" rx="9" ry="7" fill="rgb(140,140,140)" opacity="0.7" filter="url(#b2)"/>
<rect x="-4" y="-4" width="39.0" height="10.3" fill="rgb(255,255,255)"/>
<rect x="2" y="6.6" width="35.0" height="5.4" fill="rgb(140,140,140)" filter="url(#b1)"/>
<rect x="6" y="8.6" width="33.0" height="2.0" fill="rgb(92,92,92)" filter="url(#b1)"/>
<rect x="7" y="12.2" width="31.0" height="2.6" fill="rgb(189,189,189)" filter="url(#b1)"/>
<rect x="13" y="12.6" width="14" height="1.6" fill="rgb(235,235,235)" filter="url(#b1)"/>
<rect x="7" y="14.8" width="31.0" height="5.0" fill="rgb(133,133,133)" filter="url(#b1)"/>
<ellipse cx="15" cy="17.2" rx="7" ry="1.3" fill="rgb(97,97,97)" opacity="0.9" filter="url(#b1)"/>
<rect x="8" y="20.2" width="31.0" height="2.0" fill="rgb(184,184,184)" opacity="0.8" filter="url(#b1)"/>
<rect x="-0.5" y="6.5" width="10" height="148.4" fill="url(#stripe)"/>
<rect x="3.3" y="-2" width="2.8" height="10" fill="rgb(140,140,140)" filter="url(#b1)"/>
<rect x="-1" y="-2" width="2.0" height="9" fill="rgb(235,235,235)" filter="url(#b1)"/>
<path d="M3.9,19.5 C6.6,21 6.0,28 5.1,60.0 L4.4,100 L3.4,100 L2.7,60.0 C1.8,28 1.2,21 3.9,19.5 Z" fill="rgb(8,8,8)" filter="url(#b1)"/>
<ellipse cx="3.9" cy="24.5" rx="1.1" ry="3.6" fill="rgb(0,0,0)" filter="url(#b1)"/>
<ellipse cx="4.2" cy="9.6" rx="2.3" ry="1.8" fill="rgb(5,5,5)" filter="url(#b1)"/>
</g></g>
<g transform="translate(277.6,616.1)" clip-path="url(#tclip)"><g filter="url(#jet)">
<rect x="-4" y="-4" width="39.0" height="156.4" fill="rgb(184,184,184)"/>
<rect x="-3" y="-3" width="37.0" height="154.4" filter="url(#n6)"/>
<rect x="-3" y="-3" width="37.0" height="154.4" filter="url(#n7)"/>
<rect x="-3" y="-3" width="37.0" height="154.4" filter="url(#n8)"/>
<rect x="8" y="21" width="31.0" height="24" fill="rgb(230,230,230)" opacity="0.5" filter="url(#b3)"/>
<rect x="8" y="22" width="31.0" height="22" fill="rgb(242,242,242)" opacity="0.55" filter="url(#b2)"/>
<ellipse cx="20" cy="70" rx="9" ry="16" fill="rgb(128,128,128)" opacity="0.8" filter="url(#b3)"/>
<ellipse cx="20" cy="99" rx="10" ry="5.5" fill="rgb(87,87,87)" filter="url(#b2)"/>
<ellipse cx="19" cy="100" rx="7" ry="2.6" fill="rgb(41,41,41)" filter="url(#b1)" transform="rotate(-18 19 100)"/>
<ellipse cx="13" cy="128" rx="5" ry="9" fill="rgb(217,217,217)" opacity="0.5" filter="url(#b3)"/>
<rect x="-4" y="-4" width="39.0" height="10.3" fill="rgb(255,255,255)"/>
<rect x="2" y="6.6" width="35.0" height="5.4" fill="rgb(140,140,140)" filter="url(#b1)"/>
<rect x="6" y="8.6" width="33.0" height="2.0" fill="rgb(92,92,92)" filter="url(#b1)"/>
<rect x="7" y="12.2" width="31.0" height="2.6" fill="rgb(189,189,189)" filter="url(#b1)"/>
<rect x="13" y="12.6" width="14" height="1.6" fill="rgb(235,235,235)" filter="url(#b1)"/>
<rect x="7" y="14.8" width="31.0" height="5.0" fill="rgb(133,133,133)" filter="url(#b1)"/>
<ellipse cx="15" cy="17.2" rx="7" ry="1.3" fill="rgb(97,97,97)" opacity="0.9" filter="url(#b1)"/>
<rect x="8" y="20.2" width="31.0" height="2.0" fill="rgb(184,184,184)" opacity="0.8" filter="url(#b1)"/>
<rect x="-0.5" y="6.5" width="10" height="148.4" fill="url(#stripe)"/>
<rect x="3.3" y="-2" width="2.8" height="10" fill="rgb(140,140,140)" filter="url(#b1)"/>
<rect x="-1" y="-2" width="2.0" height="9" fill="rgb(235,235,235)" filter="url(#b1)"/>
<path d="M3.9,19.5 C6.6,21 6.0,28 5.1,60.0 L4.4,100 L3.4,100 L2.7,60.0 C1.8,28 1.2,21 3.9,19.5 Z" fill="rgb(8,8,8)" filter="url(#b1)"/>
<ellipse cx="3.9" cy="24.5" rx="1.1" ry="3.6" fill="rgb(0,0,0)" filter="url(#b1)"/>
<ellipse cx="4.2" cy="9.6" rx="2.3" ry="1.8" fill="rgb(5,5,5)" filter="url(#b1)"/>
</g></g>
<g transform="translate(318.7,616.1)" clip-path="url(#tclip)"><g filter="url(#jet)">
<rect x="-4" y="-4" width="39.0" height="156.4" fill="rgb(222,222,222)"/>
<rect x="-3" y="-3" width="37.0" height="154.4" filter="url(#n9)"/>
<rect x="-3" y="-3" width="37.0" height="154.4" filter="url(#n10)"/>
<rect x="-3" y="-3" width="37.0" height="154.4" filter="url(#n11)"/>
<rect x="7" y="21" width="31.0" height="20" fill="rgb(255,255,255)" opacity="0.85" filter="url(#b2)"/>
<ellipse cx="20" cy="62" rx="7" ry="18" fill="rgb(168,168,168)" opacity="0.6" filter="url(#b3)"/>
<ellipse cx="17" cy="105" rx="8" ry="8" fill="rgb(133,133,133)" opacity="0.95" filter="url(#b2)"/>
<ellipse cx="15" cy="104" rx="2.6" ry="2.2" fill="rgb(71,71,71)" filter="url(#b1)"/>
<ellipse cx="12" cy="125" rx="5" ry="14" fill="rgb(242,242,242)" opacity="0.6" filter="url(#b3)"/>
<ellipse cx="21" cy="138" rx="8" ry="9" fill="rgb(158,158,158)" opacity="0.7" filter="url(#b3)"/>
<rect x="-4" y="-4" width="39.0" height="10.3" fill="rgb(255,255,255)"/>
<rect x="2" y="6.6" width="35.0" height="5.4" fill="rgb(140,140,140)" filter="url(#b1)"/>
<rect x="6" y="8.6" width="33.0" height="2.0" fill="rgb(92,92,92)" filter="url(#b1)"/>
<rect x="7" y="12.2" width="31.0" height="2.6" fill="rgb(189,189,189)" filter="url(#b1)"/>
<rect x="13" y="12.6" width="14" height="1.6" fill="rgb(235,235,235)" filter="url(#b1)"/>
<rect x="7" y="14.8" width="31.0" height="5.0" fill="rgb(133,133,133)" filter="url(#b1)"/>
<ellipse cx="15" cy="17.2" rx="7" ry="1.3" fill="rgb(97,97,97)" opacity="0.9" filter="url(#b1)"/>
<rect x="8" y="20.2" width="31.0" height="2.0" fill="rgb(184,184,184)" opacity="0.8" filter="url(#b1)"/>
<rect x="-0.5" y="6.5" width="10" height="148.4" fill="url(#stripe)"/>
<rect x="3.3" y="-2" width="2.8" height="10" fill="rgb(140,140,140)" filter="url(#b1)"/>
<rect x="-1" y="-2" width="2.0" height="9" fill="rgb(235,235,235)" filter="url(#b1)"/>
<path d="M3.9,19.5 C6.6,21 6.0,28 5.1,55.0 L4.4,90 L3.4,90 L2.7,55.0 C1.8,28 1.2,21 3.9,19.5 Z" fill="rgb(8,8,8)" filter="url(#b1)"/>
<ellipse cx="3.9" cy="24.5" rx="1.1" ry="3.6" fill="rgb(0,0,0)" filter="url(#b1)"/>
<ellipse cx="4.2" cy="9.6" rx="2.3" ry="1.8" fill="rgb(5,5,5)" opacity="0.9" filter="url(#b1)"/>
</g></g>
<g transform="translate(362.4,616.1)" clip-path="url(#tclip)"><g filter="url(#jet)">
<rect x="-4" y="-4" width="39.0" height="156.4" fill="rgb(222,222,222)"/>
<rect x="-3" y="-3" width="37.0" height="154.4" filter="url(#n12)"/>
<rect x="-3" y="-3" width="37.0" height="154.4" filter="url(#n13)"/>
<rect x="-3" y="-3" width="37.0" height="154.4" filter="url(#n14)"/>
<rect x="7" y="21" width="31.0" height="20" fill="rgb(255,255,255)" opacity="0.85" filter="url(#b2)"/>
<ellipse cx="15" cy="103" rx="4" ry="3" fill="rgb(133,133,133)" opacity="0.9" filter="url(#b1)"/>
<ellipse cx="12" cy="120" rx="6" ry="18" fill="rgb(255,255,255)" opacity="0.6" filter="url(#b3)"/>
<rect x="8" y="42" width="31.0" height="50" fill="rgb(204,204,204)" opacity="0.35" filter="url(#b3)"/>
<ellipse cx="22" cy="138" rx="6" ry="9" fill="rgb(184,184,184)" opacity="0.6" filter="url(#b3)"/>
<rect x="-4" y="-4" width="39.0" height="10.3" fill="rgb(255,255,255)"/>
<rect x="2" y="6.6" width="35.0" height="5.4" fill="rgb(140,140,140)" filter="url(#b1)"/>
<rect x="6" y="8.6" width="33.0" height="2.0" fill="rgb(92,92,92)" filter="url(#b1)"/>
<rect x="7" y="12.2" width="31.0" height="2.6" fill="rgb(189,189,189)" filter="url(#b1)"/>
<rect x="13" y="12.6" width="14" height="1.6" fill="rgb(235,235,235)" filter="url(#b1)"/>
<rect x="7" y="14.8" width="31.0" height="5.0" fill="rgb(133,133,133)" filter="url(#b1)"/>
<ellipse cx="15" cy="17.2" rx="7" ry="1.3" fill="rgb(97,97,97)" opacity="0.9" filter="url(#b1)"/>
<rect x="8" y="20.2" width="31.0" height="2.0" fill="rgb(184,184,184)" opacity="0.8" filter="url(#b1)"/>
<rect x="-0.5" y="6.5" width="10" height="148.4" fill="url(#stripeC)"/>
<rect x="3.3" y="-2" width="2.8" height="10" fill="rgb(140,140,140)" filter="url(#b1)"/>
<rect x="-1" y="-2" width="2.0" height="9" fill="rgb(235,235,235)" filter="url(#b1)"/>
<path d="M3.9,19.5 C6.6,21 6.0,28 5.1,30.0 L4.4,40 L3.4,40 L2.7,30.0 C1.8,28 1.2,21 3.9,19.5 Z" fill="rgb(8,8,8)" filter="url(#b1)"/>
<ellipse cx="3.9" cy="24.5" rx="1.1" ry="3.6" fill="rgb(0,0,0)" filter="url(#b1)"/>
<ellipse cx="4.2" cy="9.6" rx="2.3" ry="1.8" fill="rgb(5,5,5)" opacity="0.3" filter="url(#b1)"/>
</g></g>
<g transform="translate(406.1,616.1)" clip-path="url(#tclip)"><g filter="url(#jet)">
<rect x="-4" y="-4" width="39.0" height="156.4" fill="rgb(222,222,222)"/>
<rect x="-3" y="-3" width="37.0" height="154.4" filter="url(#n12)"/>
<rect x="-3" y="-3" width="37.0" height="154.4" filter="url(#n13)"/>
<rect x="-3" y="-3" width="37.0" height="154.4" filter="url(#n14)"/>
<rect x="7" y="21" width="31.0" height="20" fill="rgb(255,255,255)" opacity="0.85" filter="url(#b2)"/>
<ellipse cx="13" cy="103" rx="4" ry="2.6" fill="rgb(140,140,140)" opacity="0.9" filter="url(#b1)"/>
<ellipse cx="14" cy="125" rx="8" ry="20" fill="rgb(255,255,255)" opacity="0.7" filter="url(#b3)"/>
<ellipse cx="17" cy="58" rx="3" ry="14" fill="rgb(184,184,184)" opacity="0.7" filter="url(#b2)"/>
<ellipse cx="23" cy="138" rx="5" ry="9" fill="rgb(189,189,189)" opacity="0.6" filter="url(#b3)"/>
<rect x="-4" y="-4" width="39.0" height="10.3" fill="rgb(255,255,255)"/>
<rect x="2" y="6.6" width="35.0" height="5.4" fill="rgb(140,140,140)" filter="url(#b1)"/>
<rect x="6" y="8.6" width="33.0" height="2.0" fill="rgb(92,92,92)" filter="url(#b1)"/>
<rect x="7" y="12.2" width="31.0" height="2.6" fill="rgb(189,189,189)" filter="url(#b1)"/>
<rect x="13" y="12.6" width="14" height="1.6" fill="rgb(235,235,235)" filter="url(#b1)"/>
<rect x="7" y="14.8" width="31.0" height="5.0" fill="rgb(133,133,133)" filter="url(#b1)"/>
<ellipse cx="15" cy="17.2" rx="7" ry="1.3" fill="rgb(97,97,97)" opacity="0.9" filter="url(#b1)"/>
<rect x="8" y="20.2" width="31.0" height="2.0" fill="rgb(184,184,184)" opacity="0.8" filter="url(#b1)"/>
<rect x="-0.5" y="6.5" width="10" height="148.4" fill="url(#stripeC)"/>
<rect x="3.3" y="-2" width="2.8" height="10" fill="rgb(140,140,140)" filter="url(#b1)"/>
<rect x="-1" y="-2" width="2.0" height="9" fill="rgb(235,235,235)" filter="url(#b1)"/>
<path d="M3.9,19.5 C6.6,21 6.0,28 5.1,30.0 L4.4,40 L3.4,40 L2.7,30.0 C1.8,28 1.2,21 3.9,19.5 Z" fill="rgb(8,8,8)" filter="url(#b1)"/>
<ellipse cx="3.9" cy="24.5" rx="1.1" ry="3.6" fill="rgb(0,0,0)" filter="url(#b1)"/>
</g></g>
<g transform="translate(456.8,616.1)" clip-path="url(#tclip)"><g filter="url(#jet)">
<rect x="-4" y="-4" width="39.0" height="156.4" fill="rgb(219,219,219)"/>
<rect x="-3" y="-3" width="37.0" height="154.4" filter="url(#n15)"/>
<rect x="-3" y="-3" width="37.0" height="154.4" filter="url(#n16)"/>
<rect x="-3" y="-3" width="37.0" height="154.4" filter="url(#n17)"/>
<rect x="25" y="22" width="10" height="85" fill="rgb(255,255,255)" opacity="0.6" filter="url(#b2)"/>
<rect x="8" y="22" width="31.0" height="13" fill="rgb(255,255,255)" opacity="0.6" filter="url(#b2)"/>
<rect x="8" y="58" width="6" height="18" fill="rgb(255,255,255)" opacity="0.6" filter="url(#b2)"/>
<ellipse cx="13" cy="118" rx="5.5" ry="15" fill="rgb(255,255,255)" opacity="0.75" filter="url(#b2)"/>
<rect x="14" y="34" width="6" height="66" fill="rgb(191,191,191)" opacity="0.6" filter="url(#b2)"/>
<rect x="8" y="84" width="31.0" height="3.5" fill="rgb(194,194,194)" opacity="0.5" filter="url(#b1)"/>
<ellipse cx="24" cy="128" rx="5" ry="12" fill="rgb(194,194,194)" opacity="0.5" filter="url(#b2)"/>
<ellipse cx="13" cy="104" rx="4.5" ry="3" fill="rgb(138,138,138)" opacity="0.95" filter="url(#b1)"/>
<ellipse cx="20" cy="143" rx="5" ry="3" fill="rgb(153,153,153)" opacity="0.8" filter="url(#b1)"/>
<rect x="-4" y="-4" width="39.0" height="10.3" fill="rgb(255,255,255)"/>
<rect x="2" y="6.6" width="35.0" height="5.4" fill="rgb(140,140,140)" filter="url(#b1)"/>
<rect x="6" y="8.6" width="33.0" height="2.0" fill="rgb(92,92,92)" filter="url(#b1)"/>
<rect x="7" y="12.2" width="31.0" height="2.6" fill="rgb(189,189,189)" filter="url(#b1)"/>
<rect x="13" y="12.5" width="14" height="1.7" fill="rgb(214,214,214)" filter="url(#b1)"/>
<path d="M7,14.8 L32,14.8 L32,19.5 L24,21 L18,24 L13,21.5 L7,20.5 Z" fill="rgb(135,135,135)" filter="url(#b1)"/>
<ellipse cx="14" cy="17.2" rx="6" ry="1.3" fill="rgb(102,102,102)" opacity="0.9" filter="url(#b1)"/>
<rect x="8" y="21.5" width="31.0" height="2.0" fill="rgb(189,189,189)" opacity="0.7" filter="url(#b1)"/>
<rect x="-0.5" y="6.5" width="10" height="148.4" fill="url(#stripeC)"/>
<rect x="3.3" y="-2" width="2.8" height="10" fill="rgb(140,140,140)" filter="url(#b1)"/>
<rect x="-1" y="-2" width="2.0" height="9" fill="rgb(235,235,235)" filter="url(#b1)"/>
<path d="M3.9,19.5 C6.6,21 6.0,28 5.1,30.0 L4.4,40 L3.4,40 L2.7,30.0 C1.8,28 1.2,21 3.9,19.5 Z" fill="rgb(8,8,8)" filter="url(#b1)"/>
<ellipse cx="3.9" cy="24.5" rx="1.1" ry="3.6" fill="rgb(0,0,0)" filter="url(#b1)"/>
</g></g>
<g transform="translate(506.3,616.1)" clip-path="url(#tclip)"><g filter="url(#jet)">
<rect x="-4" y="-4" width="39.0" height="156.4" fill="rgb(219,219,219)"/>
<rect x="-3" y="-3" width="37.0" height="154.4" filter="url(#n15)"/>
<rect x="-3" y="-3" width="37.0" height="154.4" filter="url(#n16)"/>
<rect x="-3" y="-3" width="37.0" height="154.4" filter="url(#n17)"/>
<rect x="25" y="22" width="10" height="85" fill="rgb(255,255,255)" opacity="0.6" filter="url(#b2)"/>
<rect x="8" y="22" width="31.0" height="13" fill="rgb(255,255,255)" opacity="0.6" filter="url(#b2)"/>
<rect x="8" y="58" width="6" height="18" fill="rgb(255,255,255)" opacity="0.6" filter="url(#b2)"/>
<ellipse cx="13" cy="118" rx="5.5" ry="15" fill="rgb(255,255,255)" opacity="0.75" filter="url(#b2)"/>
<rect x="14" y="34" width="6" height="66" fill="rgb(191,191,191)" opacity="0.6" filter="url(#b2)"/>
<rect x="8" y="84" width="31.0" height="3.5" fill="rgb(194,194,194)" opacity="0.5" filter="url(#b1)"/>
<ellipse cx="24" cy="128" rx="5" ry="12" fill="rgb(194,194,194)" opacity="0.5" filter="url(#b2)"/>
<ellipse cx="12" cy="105" rx="3" ry="2.6" fill="rgb(148,148,148)" opacity="0.9" filter="url(#b1)"/>
<ellipse cx="20" cy="143" rx="5" ry="3" fill="rgb(168,168,168)" opacity="0.8" filter="url(#b1)"/>
<rect x="-4" y="-4" width="39.0" height="10.3" fill="rgb(255,255,255)"/>
<rect x="2" y="6.6" width="35.0" height="5.4" fill="rgb(140,140,140)" filter="url(#b1)"/>
<rect x="6" y="8.6" width="33.0" height="2.0" fill="rgb(92,92,92)" filter="url(#b1)"/>
<rect x="7" y="12.2" width="31.0" height="2.6" fill="rgb(189,189,189)" filter="url(#b1)"/>
<rect x="13" y="12.5" width="14" height="1.7" fill="rgb(214,214,214)" filter="url(#b1)"/>
<path d="M7,14.8 L32,14.8 L32,17.5 L26,20 L19,27.5 L13,21.5 L7,20.5 Z" fill="rgb(135,135,135)" filter="url(#b1)"/>
<ellipse cx="14" cy="17.2" rx="6" ry="1.3" fill="rgb(102,102,102)" opacity="0.9" filter="url(#b1)"/>
<rect x="8" y="21.5" width="31.0" height="2.0" fill="rgb(189,189,189)" opacity="0.7" filter="url(#b1)"/>
<rect x="-0.5" y="6.5" width="10" height="148.4" fill="url(#stripe)"/>
<rect x="3.3" y="-2" width="2.8" height="10" fill="rgb(140,140,140)" filter="url(#b1)"/>
<rect x="-1" y="-2" width="2.0" height="9" fill="rgb(235,235,235)" filter="url(#b1)"/>
<path d="M3.9,19.5 C6.6,21 6.0,28 5.1,62.5 L4.4,105 L3.4,105 L2.7,62.5 C1.8,28 1.2,21 3.9,19.5 Z" fill="rgb(8,8,8)" filter="url(#b1)"/>
<ellipse cx="3.9" cy="24.5" rx="1.1" ry="3.6" fill="rgb(0,0,0)" filter="url(#b1)"/>
</g></g>
<g transform="translate(555.5,616.1)" clip-path="url(#tclip)"><g filter="url(#jet)">
<rect x="-4" y="-4" width="39.0" height="156.4" fill="rgb(219,219,219)"/>
<rect x="-3" y="-3" width="37.0" height="154.4" filter="url(#n15)"/>
<rect x="-3" y="-3" width="37.0" height="154.4" filter="url(#n16)"/>
<rect x="-3" y="-3" width="37.0" height="154.4" filter="url(#n17)"/>
<rect x="25" y="22" width="10" height="85" fill="rgb(255,255,255)" opacity="0.6" filter="url(#b2)"/>
<rect x="8" y="22" width="31.0" height="13" fill="rgb(255,255,255)" opacity="0.6" filter="url(#b2)"/>
<rect x="8" y="58" width="6" height="18" fill="rgb(255,255,255)" opacity="0.6" filter="url(#b2)"/>
<ellipse cx="13" cy="118" rx="5.5" ry="15" fill="rgb(255,255,255)" opacity="0.75" filter="url(#b2)"/>
<rect x="14" y="34" width="6" height="66" fill="rgb(191,191,191)" opacity="0.6" filter="url(#b2)"/>
<rect x="8" y="84" width="31.0" height="3.5" fill="rgb(194,194,194)" opacity="0.5" filter="url(#b1)"/>
<ellipse cx="24" cy="128" rx="5" ry="12" fill="rgb(194,194,194)" opacity="0.5" filter="url(#b2)"/>
<ellipse cx="12" cy="104" rx="3" ry="2.4" fill="rgb(184,184,184)" opacity="0.8" filter="url(#b1)"/>
<rect x="-4" y="-4" width="39.0" height="10.3" fill="rgb(255,255,255)"/>
<rect x="2" y="6.6" width="35.0" height="5.4" fill="rgb(140,140,140)" filter="url(#b1)"/>
<rect x="6" y="8.6" width="33.0" height="2.0" fill="rgb(92,92,92)" filter="url(#b1)"/>
<rect x="7" y="12.2" width="31.0" height="2.6" fill="rgb(189,189,189)" filter="url(#b1)"/>
<rect x="13" y="12.5" width="14" height="1.7" fill="rgb(214,214,214)" filter="url(#b1)"/>
<path d="M7,14.8 L32,14.8 L32,17.5 L26,20 L19,27.5 L13,21.5 L7,20.5 Z" fill="rgb(135,135,135)" filter="url(#b1)"/>
<ellipse cx="14" cy="17.2" rx="6" ry="1.3" fill="rgb(102,102,102)" opacity="0.9" filter="url(#b1)"/>
<rect x="8" y="21.5" width="31.0" height="2.0" fill="rgb(189,189,189)" opacity="0.7" filter="url(#b1)"/>
<rect x="-0.5" y="6.5" width="10" height="148.4" fill="url(#stripe)"/>
<rect x="3.3" y="-2" width="2.8" height="10" fill="rgb(140,140,140)" filter="url(#b1)"/>
<rect x="-1" y="-2" width="2.0" height="9" fill="rgb(235,235,235)" filter="url(#b1)"/>
<path d="M3.9,19.5 C6.6,21 6.0,28 5.1,62.5 L4.4,105 L3.4,105 L2.7,62.5 C1.8,28 1.2,21 3.9,19.5 Z" fill="rgb(8,8,8)" filter="url(#b1)"/>
<ellipse cx="3.9" cy="24.5" rx="1.1" ry="3.6" fill="rgb(0,0,0)" filter="url(#b1)"/>
</g></g>
<g transform="translate(606.4,616.1)" clip-path="url(#tclip)"><g filter="url(#jet)">
<rect x="-4" y="-4" width="39.0" height="156.4" fill="rgb(219,219,219)"/>
<rect x="-3" y="-3" width="37.0" height="154.4" filter="url(#n18)"/>
<rect x="-3" y="-3" width="37.0" height="154.4" filter="url(#n19)"/>
<rect x="-3" y="-3" width="37.0" height="154.4" filter="url(#n20)"/>
<rect x="25" y="22" width="10" height="85" fill="rgb(255,255,255)" opacity="0.6" filter="url(#b2)"/>
<rect x="8" y="22" width="31.0" height="13" fill="rgb(255,255,255)" opacity="0.6" filter="url(#b2)"/>
<rect x="8" y="58" width="6" height="18" fill="rgb(255,255,255)" opacity="0.6" filter="url(#b2)"/>
<ellipse cx="13" cy="118" rx="5.5" ry="15" fill="rgb(255,255,255)" opacity="0.75" filter="url(#b2)"/>
<rect x="14" y="34" width="6" height="66" fill="rgb(191,191,191)" opacity="0.6" filter="url(#b2)"/>
<rect x="8" y="84" width="31.0" height="3.5" fill="rgb(194,194,194)" opacity="0.5" filter="url(#b1)"/>
<ellipse cx="24" cy="128" rx="5" ry="12" fill="rgb(194,194,194)" opacity="0.5" filter="url(#b2)"/>
<rect x="8" y="22" width="31.0" height="120" fill="rgb(199,199,199)" opacity="0.35" filter="url(#b3)"/>
<ellipse cx="13" cy="105" rx="6" ry="4" fill="rgb(184,184,184)" opacity="0.8" filter="url(#b2)"/>
<ellipse cx="20" cy="143" rx="5" ry="3" fill="rgb(143,143,143)" opacity="0.8" filter="url(#b1)"/>
<rect x="-4" y="-4" width="39.0" height="10.3" fill="rgb(255,255,255)"/>
<rect x="2" y="6.6" width="35.0" height="5.4" fill="rgb(140,140,140)" filter="url(#b1)"/>
<rect x="6" y="8.6" width="33.0" height="2.0" fill="rgb(92,92,92)" filter="url(#b1)"/>
<rect x="7" y="12.2" width="31.0" height="2.6" fill="rgb(189,189,189)" filter="url(#b1)"/>
<rect x="13" y="12.5" width="14" height="1.7" fill="rgb(214,214,214)" filter="url(#b1)"/>
<path d="M7,14.8 L32,14.8 L32,19.5 L24,21 L18,24 L13,21.5 L7,20.5 Z" fill="rgb(135,135,135)" filter="url(#b1)"/>
<ellipse cx="14" cy="17.2" rx="6" ry="1.3" fill="rgb(102,102,102)" opacity="0.9" filter="url(#b1)"/>
<rect x="8" y="21.5" width="31.0" height="2.0" fill="rgb(189,189,189)" opacity="0.7" filter="url(#b1)"/>
<rect x="-0.5" y="6.5" width="10" height="148.4" fill="url(#stripe)"/>
<rect x="3.3" y="-2" width="2.8" height="10" fill="rgb(140,140,140)" filter="url(#b1)"/>
<rect x="-1" y="-2" width="2.0" height="9" fill="rgb(235,235,235)" filter="url(#b1)"/>
<path d="M3.9,19.5 C6.6,21 6.0,28 5.1,45.0 L4.4,70 L3.4,70 L2.7,45.0 C1.8,28 1.2,21 3.9,19.5 Z" fill="rgb(8,8,8)" filter="url(#b1)"/>
<ellipse cx="3.9" cy="24.5" rx="1.1" ry="3.6" fill="rgb(0,0,0)" filter="url(#b1)"/>
</g></g>
<g transform="translate(644.2,616.1)" clip-path="url(#tclip)"><g filter="url(#jet)">
<rect x="-4" y="-4" width="39.0" height="156.4" fill="rgb(184,184,184)"/>
<rect x="-3" y="-3" width="37.0" height="154.4" filter="url(#n21)"/>
<rect x="-3" y="-3" width="37.0" height="154.4" filter="url(#n22)"/>
<rect x="-3" y="-3" width="37.0" height="154.4" filter="url(#n23)"/>
<rect x="8" y="21" width="31.0" height="24" fill="rgb(230,230,230)" opacity="0.5" filter="url(#b3)"/>
<rect x="8" y="22" width="31.0" height="30" fill="rgb(209,209,209)" opacity="0.4" filter="url(#b3)"/>
<ellipse cx="20" cy="90" rx="8" ry="14" fill="rgb(133,133,133)" opacity="0.6" filter="url(#b3)"/>
<ellipse cx="18" cy="125" rx="9" ry="9" fill="rgb(230,230,230)" opacity="0.7" filter="url(#b3)"/>
<rect x="-4" y="-4" width="39.0" height="10.3" fill="rgb(255,255,255)"/>
<rect x="2" y="6.6" width="35.0" height="5.4" fill="rgb(140,140,140)" filter="url(#b1)"/>
<rect x="6" y="8.6" width="33.0" height="2.0" fill="rgb(92,92,92)" filter="url(#b1)"/>
<rect x="7" y="12.2" width="31.0" height="2.6" fill="rgb(189,189,189)" filter="url(#b1)"/>
<rect x="13" y="12.6" width="14" height="1.6" fill="rgb(235,235,235)" filter="url(#b1)"/>
<rect x="7" y="14.8" width="31.0" height="5.0" fill="rgb(133,133,133)" filter="url(#b1)"/>
<ellipse cx="15" cy="17.2" rx="7" ry="1.3" fill="rgb(97,97,97)" opacity="0.9" filter="url(#b1)"/>
<rect x="8" y="20.2" width="31.0" height="2.0" fill="rgb(184,184,184)" opacity="0.8" filter="url(#b1)"/>
<rect x="-0.5" y="6.5" width="10" height="148.4" fill="url(#stripe)"/>
<rect x="3.3" y="-2" width="2.8" height="10" fill="rgb(140,140,140)" filter="url(#b1)"/>
<rect x="-1" y="-2" width="2.0" height="9" fill="rgb(235,235,235)" filter="url(#b1)"/>
<path d="M3.9,19.5 C6.6,21 6.0,28 5.1,60.0 L4.4,100 L3.4,100 L2.7,60.0 C1.8,28 1.2,21 3.9,19.5 Z" fill="rgb(8,8,8)" filter="url(#b1)"/>
<ellipse cx="3.9" cy="24.5" rx="1.1" ry="3.6" fill="rgb(0,0,0)" filter="url(#b1)"/>
<ellipse cx="4.2" cy="9.6" rx="2.3" ry="1.8" fill="rgb(5,5,5)" filter="url(#b1)"/>
</g></g>
<g transform="translate(681.6,616.1)" clip-path="url(#tclip)"><g filter="url(#jet)">
<rect x="-4" y="-4" width="39.0" height="156.4" fill="rgb(184,184,184)"/>
<rect x="-3" y="-3" width="37.0" height="154.4" filter="url(#n24)"/>
<rect x="-3" y="-3" width="37.0" height="154.4" filter="url(#n25)"/>
<rect x="-3" y="-3" width="37.0" height="154.4" filter="url(#n26)"/>
<rect x="8" y="21" width="31.0" height="24" fill="rgb(230,230,230)" opacity="0.5" filter="url(#b3)"/>
<ellipse cx="22" cy="88" rx="8" ry="18" fill="rgb(120,120,120)" opacity="0.85" filter="url(#b3)"/>
<ellipse cx="24" cy="92" rx="4" ry="6" fill="rgb(102,102,102)" opacity="0.8" filter="url(#b2)"/>
<ellipse cx="12" cy="127" rx="6" ry="8" fill="rgb(230,230,230)" opacity="0.7" filter="url(#b3)"/>
<rect x="-4" y="-4" width="39.0" height="10.3" fill="rgb(255,255,255)"/>
<rect x="2" y="6.6" width="35.0" height="5.4" fill="rgb(140,140,140)" filter="url(#b1)"/>
<rect x="6" y="8.6" width="33.0" height="2.0" fill="rgb(92,92,92)" filter="url(#b1)"/>
<rect x="7" y="12.2" width="31.0" height="2.6" fill="rgb(189,189,189)" filter="url(#b1)"/>
<rect x="13" y="12.6" width="14" height="1.6" fill="rgb(235,235,235)" filter="url(#b1)"/>
<rect x="7" y="14.8" width="31.0" height="5.0" fill="rgb(133,133,133)" filter="url(#b1)"/>
<ellipse cx="15" cy="17.2" rx="7" ry="1.3" fill="rgb(97,97,97)" opacity="0.9" filter="url(#b1)"/>
<rect x="8" y="20.2" width="31.0" height="2.0" fill="rgb(184,184,184)" opacity="0.8" filter="url(#b1)"/>
<rect x="-0.5" y="6.5" width="10" height="148.4" fill="url(#stripe)"/>
<rect x="3.3" y="-2" width="2.8" height="10" fill="rgb(140,140,140)" filter="url(#b1)"/>
<rect x="-1" y="-2" width="2.0" height="9" fill="rgb(235,235,235)" filter="url(#b1)"/>
<path d="M3.9,19.5 C6.6,21 6.0,28 5.1,60.0 L4.4,100 L3.4,100 L2.7,60.0 C1.8,28 1.2,21 3.9,19.5 Z" fill="rgb(8,8,8)" filter="url(#b1)"/>
<ellipse cx="3.9" cy="24.5" rx="1.1" ry="3.6" fill="rgb(0,0,0)" filter="url(#b1)"/>
<ellipse cx="4.2" cy="9.6" rx="2.3" ry="1.8" fill="rgb(5,5,5)" filter="url(#b1)"/>
</g></g>
<g transform="translate(719.1,616.1)" clip-path="url(#tclip)"><g filter="url(#jet)">
<rect x="-4" y="-4" width="39.0" height="156.4" fill="rgb(184,184,184)"/>
<rect x="-3" y="-3" width="37.0" height="154.4" filter="url(#n27)"/>
<rect x="-3" y="-3" width="37.0" height="154.4" filter="url(#n28)"/>
<rect x="-3" y="-3" width="37.0" height="154.4" filter="url(#n29)"/>
<rect x="8" y="21" width="31.0" height="24" fill="rgb(230,230,230)" opacity="0.5" filter="url(#b3)"/>
<rect x="8" y="22" width="31.0" height="30" fill="rgb(209,209,209)" opacity="0.4" filter="url(#b3)"/>
<ellipse cx="20" cy="85" rx="8" ry="16" fill="rgb(128,128,128)" opacity="0.7" filter="url(#b3)"/>
<ellipse cx="16" cy="125" rx="9" ry="9" fill="rgb(237,237,237)" opacity="0.75" filter="url(#b3)"/>
<rect x="-4" y="-4" width="39.0" height="10.3" fill="rgb(255,255,255)"/>
<rect x="2" y="6.6" width="35.0" height="5.4" fill="rgb(140,140,140)" filter="url(#b1)"/>
<rect x="6" y="8.6" width="33.0" height="2.0" fill="rgb(92,92,92)" filter="url(#b1)"/>
<rect x="7" y="12.2" width="31.0" height="2.6" fill="rgb(189,189,189)" filter="url(#b1)"/>
<rect x="13" y="12.6" width="14" height="1.6" fill="rgb(235,235,235)" filter="url(#b1)"/>
<rect x="7" y="14.8" width="31.0" height="5.0" fill="rgb(133,133,133)" filter="url(#b1)"/>
<ellipse cx="15" cy="17.2" rx="7" ry="1.3" fill="rgb(97,97,97)" opacity="0.9" filter="url(#b1)"/>
<rect x="8" y="20.2" width="31.0" height="2.0" fill="rgb(184,184,184)" opacity="0.8" filter="url(#b1)"/>
<rect x="-0.5" y="6.5" width="10" height="148.4" fill="url(#stripe)"/>
<rect x="3.3" y="-2" width="2.8" height="10" fill="rgb(140,140,140)" filter="url(#b1)"/>
<rect x="-1" y="-2" width="2.0" height="9" fill="rgb(235,235,235)" filter="url(#b1)"/>
<path d="M3.9,19.5 C6.6,21 6.0,28 5.1,60.0 L4.4,100 L3.4,100 L2.7,60.0 C1.8,28 1.2,21 3.9,19.5 Z" fill="rgb(8,8,8)" filter="url(#b1)"/>
<ellipse cx="3.9" cy="24.5" rx="1.1" ry="3.6" fill="rgb(0,0,0)" filter="url(#b1)"/>
<ellipse cx="4.2" cy="9.6" rx="2.3" ry="1.8" fill="rgb(5,5,5)" filter="url(#b1)"/>
</g></g>
<g transform="translate(764.7,616.1)" clip-path="url(#tclip)"><g filter="url(#jet)">
<rect x="-4" y="-4" width="39.0" height="156.4" fill="rgb(222,222,222)"/>
<rect x="-3" y="-3" width="37.0" height="154.4" filter="url(#n30)"/>
<rect x="-3" y="-3" width="37.0" height="154.4" filter="url(#n31)"/>
<rect x="-3" y="-3" width="37.0" height="154.4" filter="url(#n32)"/>
<rect x="7" y="21" width="31.0" height="20" fill="rgb(255,255,255)" opacity="0.85" filter="url(#b2)"/>
<rect x="8" y="45" width="31.0" height="60" fill="rgb(189,189,189)" opacity="0.45" filter="url(#b3)"/>
<ellipse cx="15" cy="104" rx="6" ry="5" fill="rgb(128,128,128)" opacity="0.9" filter="url(#b2)"/>
<ellipse cx="13" cy="103" rx="2.5" ry="2" fill="rgb(97,97,97)" filter="url(#b1)"/>
<ellipse cx="20" cy="120" rx="8" ry="14" fill="rgb(158,158,158)" opacity="0.5" filter="url(#b3)"/>
<ellipse cx="11" cy="128" rx="4" ry="10" fill="rgb(235,235,235)" opacity="0.6" filter="url(#b2)"/>
<rect x="-4" y="-4" width="39.0" height="10.3" fill="rgb(255,255,255)"/>
<rect x="2" y="6.6" width="35.0" height="5.4" fill="rgb(140,140,140)" filter="url(#b1)"/>
<rect x="6" y="8.6" width="33.0" height="2.0" fill="rgb(92,92,92)" filter="url(#b1)"/>
<rect x="7" y="12.2" width="31.0" height="2.6" fill="rgb(189,189,189)" filter="url(#b1)"/>
<rect x="13" y="12.6" width="14" height="1.6" fill="rgb(235,235,235)" filter="url(#b1)"/>
<rect x="7" y="14.8" width="31.0" height="5.0" fill="rgb(133,133,133)" filter="url(#b1)"/>
<ellipse cx="15" cy="17.2" rx="7" ry="1.3" fill="rgb(97,97,97)" opacity="0.9" filter="url(#b1)"/>
<rect x="8" y="20.2" width="31.0" height="2.0" fill="rgb(184,184,184)" opacity="0.8" filter="url(#b1)"/>
<rect x="-0.5" y="6.5" width="10" height="148.4" fill="url(#stripe)"/>
<rect x="3.3" y="-2" width="2.8" height="10" fill="rgb(140,140,140)" filter="url(#b1)"/>
<rect x="-1" y="-2" width="2.0" height="9" fill="rgb(235,235,235)" filter="url(#b1)"/>
<path d="M3.9,19.5 C6.6,21 6.0,28 5.1,50.0 L4.4,80 L3.4,80 L2.7,50.0 C1.8,28 1.2,21 3.9,19.5 Z" fill="rgb(8,8,8)" filter="url(#b1)"/>
<ellipse cx="3.9" cy="24.5" rx="1.1" ry="3.6" fill="rgb(0,0,0)" filter="url(#b1)"/>
<ellipse cx="4.2" cy="9.6" rx="2.3" ry="1.8" fill="rgb(5,5,5)" opacity="0.8" filter="url(#b1)"/>
</g></g>
<g transform="translate(817.3,616.1)" clip-path="url(#tclip)"><g filter="url(#jet)">
<rect x="-4" y="-4" width="39.0" height="156.4" fill="rgb(222,222,222)"/>
<rect x="-3" y="-3" width="37.0" height="154.4" filter="url(#n12)"/>
<rect x="-3" y="-3" width="37.0" height="154.4" filter="url(#n13)"/>
<rect x="-3" y="-3" width="37.0" height="154.4" filter="url(#n14)"/>
<rect x="7" y="21" width="31.0" height="20" fill="rgb(255,255,255)" opacity="0.85" filter="url(#b2)"/>
<ellipse cx="12" cy="104" rx="4" ry="2.6" fill="rgb(140,140,140)" opacity="0.9" filter="url(#b1)"/>
<ellipse cx="12" cy="125" rx="7" ry="18" fill="rgb(255,255,255)" opacity="0.65" filter="url(#b3)"/>
<ellipse cx="24" cy="125" rx="5" ry="12" fill="rgb(194,194,194)" opacity="0.5" filter="url(#b2)"/>
<rect x="-4" y="-4" width="39.0" height="10.3" fill="rgb(255,255,255)"/>
<rect x="2" y="6.6" width="35.0" height="5.4" fill="rgb(140,140,140)" filter="url(#b1)"/>
<rect x="6" y="8.6" width="33.0" height="2.0" fill="rgb(92,92,92)" filter="url(#b1)"/>
<rect x="7" y="12.2" width="31.0" height="2.6" fill="rgb(189,189,189)" filter="url(#b1)"/>
<rect x="13" y="12.6" width="14" height="1.6" fill="rgb(235,235,235)" filter="url(#b1)"/>
<rect x="7" y="14.8" width="31.0" height="5.0" fill="rgb(133,133,133)" filter="url(#b1)"/>
<ellipse cx="15" cy="17.2" rx="7" ry="1.3" fill="rgb(97,97,97)" opacity="0.9" filter="url(#b1)"/>
<rect x="8" y="20.2" width="31.0" height="2.0" fill="rgb(184,184,184)" opacity="0.8" filter="url(#b1)"/>
<rect x="-0.5" y="6.5" width="10" height="148.4" fill="url(#stripeC)"/>
<rect x="3.3" y="-2" width="2.8" height="10" fill="rgb(140,140,140)" filter="url(#b1)"/>
<rect x="-1" y="-2" width="2.0" height="9" fill="rgb(235,235,235)" filter="url(#b1)"/>
<path d="M3.9,19.5 C6.6,21 6.0,28 5.1,30.0 L4.4,40 L3.4,40 L2.7,30.0 C1.8,28 1.2,21 3.9,19.5 Z" fill="rgb(8,8,8)" filter="url(#b1)"/>
<ellipse cx="3.9" cy="24.5" rx="1.1" ry="3.6" fill="rgb(0,0,0)" filter="url(#b1)"/>
<ellipse cx="4.2" cy="9.6" rx="2.3" ry="1.8" fill="rgb(5,5,5)" opacity="0.2" filter="url(#b1)"/>
</g></g>
<g transform="translate(879.7,616.1)" clip-path="url(#tclip)"><g filter="url(#jet)">
<rect x="-4" y="-4" width="39.0" height="156.4" fill="rgb(219,219,219)"/>
<rect x="-3" y="-3" width="37.0" height="154.4" filter="url(#n15)"/>
<rect x="-3" y="-3" width="37.0" height="154.4" filter="url(#n16)"/>
<rect x="-3" y="-3" width="37.0" height="154.4" filter="url(#n17)"/>
<rect x="25" y="22" width="10" height="85" fill="rgb(255,255,255)" opacity="0.6" filter="url(#b2)"/>
<rect x="8" y="22" width="31.0" height="13" fill="rgb(255,255,255)" opacity="0.6" filter="url(#b2)"/>
<rect x="8" y="58" width="6" height="18" fill="rgb(255,255,255)" opacity="0.6" filter="url(#b2)"/>
<ellipse cx="13" cy="118" rx="5.5" ry="15" fill="rgb(255,255,255)" opacity="0.75" filter="url(#b2)"/>
<rect x="14" y="34" width="6" height="66" fill="rgb(191,191,191)" opacity="0.6" filter="url(#b2)"/>
<rect x="8" y="84" width="31.0" height="3.5" fill="rgb(194,194,194)" opacity="0.5" filter="url(#b1)"/>
<ellipse cx="24" cy="128" rx="5" ry="12" fill="rgb(194,194,194)" opacity="0.5" filter="url(#b2)"/>
<ellipse cx="11" cy="104" rx="3.5" ry="2.4" fill="rgb(143,143,143)" opacity="0.9" filter="url(#b1)"/>
<ellipse cx="20" cy="143" rx="5" ry="3" fill="rgb(168,168,168)" opacity="0.8" filter="url(#b1)"/>
<rect x="-4" y="-4" width="39.0" height="10.3" fill="rgb(255,255,255)"/>
<rect x="2" y="6.6" width="35.0" height="5.4" fill="rgb(140,140,140)" filter="url(#b1)"/>
<rect x="6" y="8.6" width="33.0" height="2.0" fill="rgb(92,92,92)" filter="url(#b1)"/>
<rect x="7" y="12.2" width="31.0" height="2.6" fill="rgb(189,189,189)" filter="url(#b1)"/>
<rect x="13" y="12.5" width="14" height="1.7" fill="rgb(214,214,214)" filter="url(#b1)"/>
<path d="M7,14.8 L32,14.8 L32,19.5 L24,21 L18,24 L13,21.5 L7,20.5 Z" fill="rgb(135,135,135)" filter="url(#b1)"/>
<ellipse cx="14" cy="17.2" rx="6" ry="1.3" fill="rgb(102,102,102)" opacity="0.9" filter="url(#b1)"/>
<rect x="8" y="21.5" width="31.0" height="2.0" fill="rgb(189,189,189)" opacity="0.7" filter="url(#b1)"/>
<rect x="-0.5" y="6.5" width="10" height="148.4" fill="url(#stripe)"/>
<rect x="3.3" y="-2" width="2.8" height="10" fill="rgb(140,140,140)" filter="url(#b1)"/>
<rect x="-1" y="-2" width="2.0" height="9" fill="rgb(235,235,235)" filter="url(#b1)"/>
<path d="M3.9,19.5 C6.6,21 6.0,28 5.1,77.5 L4.4,135 L3.4,135 L2.7,77.5 C1.8,28 1.2,21 3.9,19.5 Z" fill="rgb(8,8,8)" filter="url(#b1)"/>
<ellipse cx="3.9" cy="24.5" rx="1.1" ry="3.6" fill="rgb(0,0,0)" filter="url(#b1)"/>
</g></g>
<g transform="translate(925.4,616.1)" clip-path="url(#tclip)"><g filter="url(#jet)">
<rect x="-4" y="-4" width="39.0" height="156.4" fill="rgb(219,219,219)"/>
<rect x="-3" y="-3" width="37.0" height="154.4" filter="url(#n15)"/>
<rect x="-3" y="-3" width="37.0" height="154.4" filter="url(#n16)"/>
<rect x="-3" y="-3" width="37.0" height="154.4" filter="url(#n17)"/>
<rect x="25" y="22" width="10" height="85" fill="rgb(255,255,255)" opacity="0.6" filter="url(#b2)"/>
<rect x="8" y="22" width="31.0" height="13" fill="rgb(255,255,255)" opacity="0.6" filter="url(#b2)"/>
<rect x="8" y="58" width="6" height="18" fill="rgb(255,255,255)" opacity="0.6" filter="url(#b2)"/>
<ellipse cx="13" cy="118" rx="5.5" ry="15" fill="rgb(255,255,255)" opacity="0.75" filter="url(#b2)"/>
<rect x="14" y="34" width="6" height="66" fill="rgb(191,191,191)" opacity="0.6" filter="url(#b2)"/>
<rect x="8" y="84" width="31.0" height="3.5" fill="rgb(194,194,194)" opacity="0.5" filter="url(#b1)"/>
<ellipse cx="24" cy="128" rx="5" ry="12" fill="rgb(194,194,194)" opacity="0.5" filter="url(#b2)"/>
<ellipse cx="11" cy="105" rx="3" ry="2.4" fill="rgb(168,168,168)" opacity="0.9" filter="url(#b1)"/>
<rect x="-4" y="-4" width="39.0" height="10.3" fill="rgb(255,255,255)"/>
<rect x="2" y="6.6" width="35.0" height="5.4" fill="rgb(140,140,140)" filter="url(#b1)"/>
<rect x="6" y="8.6" width="33.0" height="2.0" fill="rgb(92,92,92)" filter="url(#b1)"/>
<rect x="7" y="12.2" width="31.0" height="2.6" fill="rgb(189,189,189)" filter="url(#b1)"/>
<rect x="13" y="12.5" width="14" height="1.7" fill="rgb(214,214,214)" filter="url(#b1)"/>
<path d="M7,14.8 L32,14.8 L32,17.5 L26,20 L19,27.5 L13,21.5 L7,20.5 Z" fill="rgb(135,135,135)" filter="url(#b1)"/>
<ellipse cx="14" cy="17.2" rx="6" ry="1.3" fill="rgb(102,102,102)" opacity="0.9" filter="url(#b1)"/>
<rect x="8" y="21.5" width="31.0" height="2.0" fill="rgb(189,189,189)" opacity="0.7" filter="url(#b1)"/>
<rect x="-0.5" y="6.5" width="10" height="148.4" fill="url(#stripe)"/>
<rect x="3.3" y="-2" width="2.8" height="10" fill="rgb(140,140,140)" filter="url(#b1)"/>
<rect x="-1" y="-2" width="2.0" height="9" fill="rgb(235,235,235)" filter="url(#b1)"/>
<path d="M3.9,19.5 C6.6,21 6.0,28 5.1,77.5 L4.4,135 L3.4,135 L2.7,77.5 C1.8,28 1.2,21 3.9,19.5 Z" fill="rgb(8,8,8)" filter="url(#b1)"/>
<ellipse cx="3.9" cy="24.5" rx="1.1" ry="3.6" fill="rgb(0,0,0)" filter="url(#b1)"/>
</g></g>
<g transform="translate(976.1,616.1)" clip-path="url(#tclip)"><g filter="url(#jet)">
<rect x="-4" y="-4" width="39.0" height="156.4" fill="rgb(219,219,219)"/>
<rect x="-3" y="-3" width="37.0" height="154.4" filter="url(#n15)"/>
<rect x="-3" y="-3" width="37.0" height="154.4" filter="url(#n16)"/>
<rect x="-3" y="-3" width="37.0" height="154.4" filter="url(#n17)"/>
<rect x="25" y="22" width="10" height="85" fill="rgb(255,255,255)" opacity="0.6" filter="url(#b2)"/>
<rect x="8" y="22" width="31.0" height="13" fill="rgb(255,255,255)" opacity="0.6" filter="url(#b2)"/>
<rect x="8" y="58" width="6" height="18" fill="rgb(255,255,255)" opacity="0.6" filter="url(#b2)"/>
<ellipse cx="13" cy="118" rx="5.5" ry="15" fill="rgb(255,255,255)" opacity="0.75" filter="url(#b2)"/>
<rect x="14" y="34" width="6" height="66" fill="rgb(191,191,191)" opacity="0.6" filter="url(#b2)"/>
<rect x="8" y="84" width="31.0" height="3.5" fill="rgb(194,194,194)" opacity="0.5" filter="url(#b1)"/>
<ellipse cx="24" cy="128" rx="5" ry="12" fill="rgb(194,194,194)" opacity="0.5" filter="url(#b2)"/>
<ellipse cx="12" cy="104" rx="3" ry="2.4" fill="rgb(184,184,184)" opacity="0.8" filter="url(#b1)"/>
<rect x="-4" y="-4" width="39.0" height="10.3" fill="rgb(255,255,255)"/>
<rect x="2" y="6.6" width="35.0" height="5.4" fill="rgb(140,140,140)" filter="url(#b1)"/>
<rect x="6" y="8.6" width="33.0" height="2.0" fill="rgb(92,92,92)" filter="url(#b1)"/>
<rect x="7" y="12.2" width="31.0" height="2.6" fill="rgb(189,189,189)" filter="url(#b1)"/>
<rect x="13" y="12.5" width="14" height="1.7" fill="rgb(214,214,214)" filter="url(#b1)"/>
<path d="M7,14.8 L32,14.8 L32,17.5 L26,20 L19,27.5 L13,21.5 L7,20.5 Z" fill="rgb(135,135,135)" filter="url(#b1)"/>
<ellipse cx="14" cy="17.2" rx="6" ry="1.3" fill="rgb(102,102,102)" opacity="0.9" filter="url(#b1)"/>
<rect x="8" y="21.5" width="31.0" height="2.0" fill="rgb(189,189,189)" opacity="0.7" filter="url(#b1)"/>
<rect x="-0.5" y="6.5" width="10" height="148.4" fill="url(#stripe)"/>
<rect x="3.3" y="-2" width="2.8" height="10" fill="rgb(140,140,140)" filter="url(#b1)"/>
<rect x="-1" y="-2" width="2.0" height="9" fill="rgb(235,235,235)" filter="url(#b1)"/>
<path d="M3.9,19.5 C6.6,21 6.0,28 5.1,77.5 L4.4,135 L3.4,135 L2.7,77.5 C1.8,28 1.2,21 3.9,19.5 Z" fill="rgb(8,8,8)" filter="url(#b1)"/>
<ellipse cx="3.9" cy="24.5" rx="1.1" ry="3.6" fill="rgb(0,0,0)" filter="url(#b1)"/>
</g></g>
<rect x="135.2" y="608.5" width="138.10000000000002" height="179.0" fill="none" stroke="#333" stroke-width="1.5" stroke-dasharray="2 2.35"/>
<rect x="314.3" y="608.5" width="125.19999999999999" height="179.0" fill="none" stroke="#333" stroke-width="1.5" stroke-dasharray="2 2.35"/>
<rect x="600.2" y="608.5" width="116.19999999999993" height="179.0" fill="none" stroke="#333" stroke-width="1.5" stroke-dasharray="2 2.35"/>
<rect x="756.2" y="608.5" width="98.89999999999998" height="179.0" fill="none" stroke="#333" stroke-width="1.5" stroke-dasharray="2 2.35"/>
<rect x="29.7" y="619.6" width="5.5" height="172.8" fill="url(#cbar)"/>
<path d="M36.6,620.5 V792.2" stroke="#3a3a3a" stroke-width="1.3"/>
<path d="M36.6,620.5 H46" stroke="#3a3a3a" stroke-width="1.3"/>
<path d="M36.6,663.3 H46" stroke="#3a3a3a" stroke-width="1.3"/>
<path d="M36.6,706.3 H46" stroke="#3a3a3a" stroke-width="1.3"/>
<path d="M36.6,749.4 H46" stroke="#3a3a3a" stroke-width="1.3"/>
<path d="M36.6,792.2 H46" stroke="#3a3a3a" stroke-width="1.3"/>
<path d="M84.3,798 V364 H1014.5" fill="none" stroke="#3a3a3a" stroke-width="1.5"/>
<path d="M84.3,798 H1014.5" fill="none" stroke="#3a3a3a" stroke-width="1.5"/>
<path d="M1014.5,592 V798.7" stroke="#3a3a3a" stroke-width="1.6"/>
<path d="M1014.5,363.3 V592.5" stroke="#72bbf5" stroke-width="1.7"/>
<path d="M73.5,389.9 H84" stroke="#3a3a3a" stroke-width="1.4"/>
<path d="M73.5,433.5 H84" stroke="#3a3a3a" stroke-width="1.4"/>
<path d="M73.5,477 H84" stroke="#3a3a3a" stroke-width="1.4"/>
<path d="M73.5,513.4 H84" stroke="#3a3a3a" stroke-width="1.4"/>
<path d="M73.5,546.8 H84" stroke="#3a3a3a" stroke-width="1.4"/>
<path d="M73.5,579.8 H84" stroke="#3a3a3a" stroke-width="1.4"/>
<path d="M78.8,368.2 H84" stroke="#3a3a3a" stroke-width="1.4"/>
<path d="M78.8,411.5 H84" stroke="#3a3a3a" stroke-width="1.4"/>
<path d="M78.8,455.5 H84" stroke="#3a3a3a" stroke-width="1.4"/>
<path d="M78.8,498.4 H84" stroke="#3a3a3a" stroke-width="1.4"/>
<path d="M78.8,530.1 H84" stroke="#3a3a3a" stroke-width="1.4"/>
<path d="M78.8,563.4 H84" stroke="#3a3a3a" stroke-width="1.4"/>
<rect x="82" y="501.5" width="5" height="6" fill="#fff"/>
<path d="M73.5,504.9 L94.5,500.3 M73.5,509.3 L94.5,504.7" stroke="#3a3a3a" stroke-width="1.3"/>
<path d="M98.5,798 V808.3" stroke="#3a3a3a" stroke-width="1.4"/>
<path d="M310,798 V808.3" stroke="#3a3a3a" stroke-width="1.4"/>
<path d="M521.3,798 V808.3" stroke="#3a3a3a" stroke-width="1.4"/>
<path d="M732.7,798 V808.3" stroke="#3a3a3a" stroke-width="1.4"/>
<path d="M944,798 V808.3" stroke="#3a3a3a" stroke-width="1.4"/>
<path d="M204.2,798 V803.6" stroke="#3a3a3a" stroke-width="1.4"/>
<path d="M415.6,798 V803.6" stroke="#3a3a3a" stroke-width="1.4"/>
<path d="M627,798 V803.6" stroke="#3a3a3a" stroke-width="1.4"/>
<path d="M838.4,798 V803.6" stroke="#3a3a3a" stroke-width="1.4"/>
<path d="M1014.5,366.8 H1025.5" stroke="#72bbf5" stroke-width="1.5"/>
<path d="M1014.5,417.5 H1025.5" stroke="#72bbf5" stroke-width="1.5"/>
<path d="M1014.5,463.0 H1025.5" stroke="#72bbf5" stroke-width="1.5"/>
<path d="M1014.5,492.5 H1025.5" stroke="#72bbf5" stroke-width="1.5"/>
<path d="M1014.5,523.1 H1025.5" stroke="#72bbf5" stroke-width="1.5"/>
<path d="M1014.5,392.7 H1020.6" stroke="#72bbf5" stroke-width="1.5"/>
<path d="M1014.5,439.7 H1020.6" stroke="#72bbf5" stroke-width="1.5"/>
<path d="M1014.5,478.8 H1020.6" stroke="#72bbf5" stroke-width="1.5"/>
<path d="M1014.5,508.9 H1020.6" stroke="#72bbf5" stroke-width="1.5"/>
<polyline points="98.8,462.9 138.9,462.9 138.9,369.0 273.3,369.0 273.3,369.0 275.6,381.2 277.9,391.7 280.2,400.7 282.5,408.3 284.8,414.8 287.1,420.4 289.4,425.2 291.6,429.3 293.9,432.8 296.2,435.7 298.5,438.3 300.8,440.5 303.1,442.3 305.4,443.9 305.4,462.9 439.4,462.9 439.4,522.4 559.8,522.4 559.8,462.9 607.2,462.9 607.2,369.0 714.4,369.0 714.4,369.0 716.8,381.2 719.1,391.7 721.5,400.7 723.9,408.3 726.3,414.8 728.6,420.4 731.0,425.2 733.4,429.3 735.7,432.8 738.1,435.7 740.5,438.3 742.9,440.5 745.2,442.3 747.6,443.9 747.6,462.9 853.1,462.9 853.1,522.4 974.4,522.4 974.4,462.9 1004.4,462.9" fill="none" stroke="#72bbf5" stroke-width="1.7" stroke-linejoin="round"/>
<polyline points="97.8,499.4 100.0,500.4 104.0,501.0 120.0,501.6 137.8,501.8 138.6,498.0 139.0,480.0 139.6,462.0 140.4,452.0 142.0,444.0 144.4,437.2 147.0,431.5 150.0,427.2 154.4,423.9 160.0,421.2 167.8,417.9 176.0,415.0 185.6,411.9 198.0,408.0 212.2,402.8 223.0,397.6 234.4,391.7 246.0,385.0 256.7,378.3 265.0,373.3 273.3,368.3 290.0,368.2 304.4,368.3 305.6,369.8 307.2,371.0 312.2,371.9 320.0,372.8 341.7,373.9 383.3,374.4 438.3,374.5 438.9,378.0 439.6,382.8 441.0,387.0 443.1,390.6 448.0,395.0 455.6,400.8 468.0,408.5 480.6,416.1 494.0,423.0 508.3,430.0 520.0,435.0 530.6,439.7 538.0,443.8 544.4,448.1 549.0,452.5 552.8,457.8 555.2,463.0 556.9,468.9 558.2,475.0 559.2,482.8 559.8,490.0 560.1,498.8 560.4,470.0 560.7,460.0 561.3,453.6 562.3,449.5 563.9,446.7 566.5,444.8 570.8,443.3 578.0,442.4 586.1,441.8 600.0,441.0 607.2,440.6 607.6,436.0 608.3,431.0 609.3,427.0 610.8,423.1 613.5,419.5 617.8,416.1 624.0,412.7 631.7,409.2 641.0,405.9 651.1,402.2 662.0,397.0 673.3,391.1 684.0,385.8 695.6,380.0 705.0,374.3 714.4,368.2 730.0,368.1 746.9,368.2 748.0,369.6 749.7,370.6 755.0,371.8 762.2,372.6 780.0,373.5 798.3,373.9 852.5,374.5 853.0,378.0 853.5,382.8 854.8,387.0 856.7,390.6 861.0,395.2 867.8,400.8 878.0,407.6 890.0,414.7 900.0,419.8 917.4,428.3 934.8,436.2 946.0,441.0 952.2,444.0 957.0,446.9 960.9,450.1 964.2,453.8 967.0,457.9 969.0,462.6 970.5,468.4 971.8,475.0 972.8,482.3 973.6,491.0 974.0,499.0 974.2,470.0 974.4,460.0 974.9,452.0 975.6,448.0 976.8,445.6 979.0,444.1 981.8,443.1 986.0,442.3 992.3,441.7 1003.9,440.9" fill="none" stroke="#f16d71" stroke-width="1.5" stroke-linejoin="round"/>
<polyline points="98.6,507.9 102.9,507.9 107.2,513.7 108.5,511.5 110.1,512.6 115.8,512.8 124.4,511.4 131.6,514.5 137.4,511.6 140.2,518.0 145.1,539.5 151.7,546.7 158.9,557.6 161.8,543.8 163.2,556.7 165.2,549.5 166.9,559.6 168.9,548.1 170.4,563.9 171.8,549.5 173.2,559.6 176.1,563.9 181.0,568.2 181.6,553.8 182.3,567.5 182.9,555.0 183.6,567.0 186.2,568.2 189.0,569.1 194.8,560.4 197.6,578.2 200.5,562.4 203.4,569.6 206.8,557.6 210.6,570.8 215.4,582.5 216.3,571.9 222.0,567.3 222.8,568.3 223.4,580.7 223.9,569.1 224.6,583.7 225.4,567.1 226.2,583.7 226.7,568.7 227.7,583.4 228.3,569.5 229.4,581.1 230.2,570.9 230.7,579.7 231.3,567.6 231.9,582.5 232.0,571.7 232.7,583.8 233.4,573.2 233.8,586.7 234.4,573.7 235.0,585.4 235.8,572.8 236.4,583.0 237.2,572.0 237.9,584.4 238.8,573.9 239.4,582.1 239.9,572.7 240.7,586.2 241.4,571.2 242.2,583.2 243.0,574.5 243.6,583.5 244.3,573.3 245.0,582.8 245.9,572.9 246.0,569.2 246.8,582.8 247.8,572.3 248.4,584.1 249.2,569.1 249.8,585.2 250.3,569.2 251.2,585.4 251.7,570.6 252.6,585.6 253.3,571.2 254.2,581.9 255.1,570.1 255.8,584.2 256.7,572.8 257.2,585.1 257.8,569.9 258.0,568.4 258.6,582.0 259.2,567.5 260.0,577.2 260.8,568.1 261.5,578.6 262.0,569.6 262.8,577.6 263.7,567.6 264.3,581.5 265.1,565.3 265.7,578.2 279.4,573.1 286.6,573.9 287.0,566.2 287.6,584.0 288.2,567.4 288.8,585.0 289.5,566.4 290.3,584.9 291.4,568.5 293.0,572.0 294.0,575.0 295.0,567.0 295.8,581.2 296.4,569.4 297.7,580.7 298.6,566.3 299.2,581.3 299.9,569.3 300.6,582.9 301.0,572.5 306.7,570.2 310.4,583.4 321.1,572.5 328.2,574.8 336.8,582.5 344.0,581.1 358.4,574.8 367.0,573.9 371.3,576.8 378.5,575.4 384.8,571.1 391.4,582.0 399.2,574.8 405.8,581.1 413.0,582.0 419.6,569.1 420.1,579.7 434.5,561.6 440.2,561.6 448.8,554.4 454.6,555.3 461.8,557.6 469.8,548.7 477.5,552.4 483.3,551.8 490.5,545.8 497.6,547.2 504.8,546.7 512.0,542.4 518.3,546.1 523.5,530.9 525.5,536.0 532.7,538.6 539.8,548.7 547.0,540.4 553.6,548.7 568.0,540.1 575.1,549.0 582.3,540.1 598.1,546.7 603.8,547.2 605.3,549.6 605.9,560.8 606.4,549.6 607.5,559.2 608.4,548.5 609.1,562.7 610.1,549.6 610.6,559.6 618.0,568.2 618.4,556.8 618.9,567.9 619.9,558.9 620.8,567.9 621.6,556.4 622.3,570.2 622.8,555.6 623.3,570.7 624.2,559.3 624.8,567.3 625.8,559.3 626.4,570.9 627.0,556.3 627.5,568.9 628.4,558.9 629.1,568.7 630.0,555.8 630.8,567.5 631.3,568.2 638.9,574.8 639.2,564.5 639.9,577.1 640.7,562.8 641.6,573.1 642.3,563.1 643.2,574.4 643.7,562.0 644.2,573.5 645.1,562.1 646.0,573.1 646.8,562.9 647.5,577.3 647.9,565.4 648.7,575.4 649.7,563.2 650.6,573.9 651.1,562.5 651.7,576.8 652.4,562.5 653.1,577.3 654.0,567.4 654.7,581.1 655.6,567.7 656.5,581.5 657.3,568.1 657.7,581.8 658.2,566.0 659.1,583.1 659.8,568.9 660.5,582.4 661.2,568.2 662.1,583.5 662.8,567.0 663.4,580.1 664.1,568.2 664.9,579.4 665.6,568.5 666.3,581.4 667.1,567.8 667.8,581.6 668.8,568.8 669.7,579.3 670.2,568.2 671.2,579.8 671.7,566.5 672.4,583.6 672.9,566.3 673.7,580.1 674.4,578.2 681.1,569.6 681.4,570.1 682.5,580.7 683.1,573.0 684.3,582.9 685.6,571.1 686.5,579.1 687.8,576.8 694.3,579.7 702.1,573.1 710.1,579.7 715.8,582.5 717.8,568.2 721.6,581.1 723.0,570.2 724.4,582.5 725.9,569.6 727.3,584.0 728.7,567.3 729.6,575.4 735.9,575.9 743.1,574.8 751.7,578.8 758.9,574.5 771.8,573.6 779.8,580.5 786.2,576.8 792.8,574.5 800.5,582.5 808.3,573.9 814.9,571.9 822.0,573.1 829.2,582.5 835.8,574.8 843.6,578.2 850.7,576.8 863.6,569.6 864.5,583.4 870.8,569.1 885.2,563.0 892.4,563.3 894.4,550.1 895.2,563.3 899.0,563.0 904.7,548.7 906.7,558.1 913.9,552.4 920.5,553.3 927.7,548.1 935.4,553.8 942.0,551.5 949.2,545.2 955.5,545.8 961.8,562.5 970.4,553.8 972.7,533.7 973.6,552.4 982.8,548.7 991.4,546.7 997.1,547.2 1003.4,551.0" fill="none" stroke="#9ccb66" stroke-width="1.45" stroke-linejoin="round"/>
<path d="M159.6,469.7 H222.7" stroke="#f16d71" stroke-width="1.5"/>
<path d="M159.6,499.9 H222.7" stroke="#9ccb66" stroke-width="1.5"/>
<text x="5.3" y="20.4" font-size="23.3" text-anchor="start" fill="#000" font-weight="bold">a</text>
<text x="607.4" y="20.3" font-size="23.3" text-anchor="start" fill="#000" font-weight="bold">b</text>
<text x="5.3" y="378.6" font-size="23.3" text-anchor="start" fill="#000" font-weight="bold">c</text>
<text x="70" y="396.5" font-size="18.4" text-anchor="end" fill="#111">4.0</text>
<text x="70" y="440.1" font-size="18.4" text-anchor="end" fill="#111">3.5</text>
<text x="70" y="483.6" font-size="18.4" text-anchor="end" fill="#111">3.0</text>
<text x="70" y="520.0" font-size="18.4" text-anchor="end" fill="#111">0.05</text>
<text x="70" y="553.4" font-size="18.4" text-anchor="end" fill="#111">0.00</text>
<text x="70" y="586.4" font-size="18.4" text-anchor="end" fill="#111">−0.05</text>
<text x="16.4" y="467" font-size="18.4" text-anchor="middle" fill="#111" transform="rotate(-90 16.4 467)">Voltage (V)</text>
<text x="1026.0" y="375.4" font-size="18.4" text-anchor="start" fill="#48a5f0">1.1</text>
<text x="1026.0" y="422.8" font-size="18.4" text-anchor="start" fill="#48a5f0">0.5</text>
<text x="1026.0" y="471.2" font-size="18.4" text-anchor="start" fill="#48a5f0">0</text>
<text x="1026.0" y="498.8" font-size="18.4" text-anchor="start" fill="#48a5f0">-0.5</text>
<text x="1026.0" y="528.6" font-size="18.4" text-anchor="start" fill="#48a5f0">-1.1</text>
<text x="1063.0" y="442" font-size="18.4" text-anchor="middle" fill="#48a5f0" transform="rotate(90 1063.0 442)">Current (A)</text>
<text x="98.5" y="827.3" font-size="18.4" text-anchor="middle" fill="#111">0</text>
<text x="310" y="827.3" font-size="18.4" text-anchor="middle" fill="#111">15</text>
<text x="521.3" y="827.3" font-size="18.4" text-anchor="middle" fill="#111">30</text>
<text x="732.7" y="827.3" font-size="18.4" text-anchor="middle" fill="#111">45</text>
<text x="944" y="827.3" font-size="18.4" text-anchor="middle" fill="#111">60</text>
<text x="552.5" y="855.7" font-size="18.4" text-anchor="middle" fill="#111">Time (min)</text>
<text x="111.1" y="493.8" font-size="18.4" text-anchor="middle" fill="#111">1</text>
<text x="149.6" y="466.4" font-size="18.4" text-anchor="middle" fill="#111">2</text>
<text x="185.6" y="428.7" font-size="18.4" text-anchor="middle" fill="#111">3</text>
<text x="222.9" y="414.9" font-size="18.4" text-anchor="middle" fill="#111">4</text>
<text x="261.1" y="394.2" font-size="18.4" text-anchor="middle" fill="#111">5</text>
<text x="287.3" y="387.6" font-size="18.4" text-anchor="middle" fill="#111">6</text>
<text x="326.9" y="392.1" font-size="18.4" text-anchor="middle" fill="#111">7</text>
<text x="369.4" y="394.1" font-size="18.4" text-anchor="middle" fill="#111">8</text>
<text x="411.1" y="394.1" font-size="18.4" text-anchor="middle" fill="#111">9</text>
<text x="458.3" y="427.4" font-size="18.4" text-anchor="middle" fill="#111">10</text>
<text x="508.3" y="452.4" font-size="18.4" text-anchor="middle" fill="#111">11</text>
<text x="581.9" y="459.0" font-size="18.4" text-anchor="middle" fill="#111">12</text>
<text x="626.1" y="433.8" font-size="18.4" text-anchor="middle" fill="#111">13</text>
<text x="670.6" y="420.4" font-size="18.4" text-anchor="middle" fill="#111">14</text>
<text x="701.1" y="401" font-size="18.4" text-anchor="middle" fill="#111">15</text>
<text x="731.1" y="387.9" font-size="18.4" text-anchor="middle" fill="#111">16</text>
<text x="770.6" y="394.1" font-size="18.4" text-anchor="middle" fill="#111">17</text>
<text x="819.2" y="394.1" font-size="18.4" text-anchor="middle" fill="#111">18</text>
<text x="872.8" y="428.8" font-size="18.4" text-anchor="middle" fill="#111">19</text>
<text x="928.5" y="456.7" font-size="18.4" text-anchor="middle" fill="#111">20</text>
<text x="992.9" y="458.7" font-size="18.4" text-anchor="middle" fill="#111">21</text>
<text x="228.2" y="475.8" font-size="18.4" text-anchor="start" fill="#111">Cell</text>
<text x="228.2" y="503" font-size="18.4" text-anchor="start" fill="#111">Anode vs RE</text>
<text x="111" y="604" font-size="18.4" text-anchor="middle" fill="#111">1</text>
<text x="153.5" y="604" font-size="18.4" text-anchor="middle" fill="#111">2</text>
<text x="188.5" y="604" font-size="18.4" text-anchor="middle" fill="#111">3</text>
<text x="221.5" y="604" font-size="18.4" text-anchor="middle" fill="#111">4</text>
<text x="255.5" y="604" font-size="18.4" text-anchor="middle" fill="#111">5</text>
<text x="291" y="604" font-size="18.4" text-anchor="middle" fill="#111">6</text>
<text x="334" y="604" font-size="18.4" text-anchor="middle" fill="#111">7</text>
<text x="377" y="604" font-size="18.4" text-anchor="middle" fill="#111">8</text>
<text x="421.5" y="604" font-size="18.4" text-anchor="middle" fill="#111">9</text>
<text x="472.5" y="604" font-size="18.4" text-anchor="middle" fill="#111">10</text>
<text x="520" y="604" font-size="18.4" text-anchor="middle" fill="#111">11</text>
<text x="571" y="604" font-size="18.4" text-anchor="middle" fill="#111">12</text>
<text x="621" y="604" font-size="18.4" text-anchor="middle" fill="#111">13</text>
<text x="659" y="604" font-size="18.4" text-anchor="middle" fill="#111">14</text>
<text x="697" y="604" font-size="18.4" text-anchor="middle" fill="#111">15</text>
<text x="733.5" y="604" font-size="18.4" text-anchor="middle" fill="#111">16</text>
<text x="780.5" y="604" font-size="18.4" text-anchor="middle" fill="#111">17</text>
<text x="832.5" y="604" font-size="18.4" text-anchor="middle" fill="#111">18</text>
<text x="895" y="604" font-size="18.4" text-anchor="middle" fill="#111">19</text>
<text x="940.5" y="604" font-size="18.4" text-anchor="middle" fill="#111">20</text>
<text x="991.5" y="604" font-size="18.4" text-anchor="middle" fill="#111">21</text>
<text x="195" y="784" font-size="18.4" text-anchor="middle" fill="#111">6 C CC</text>
<text x="291" y="784" font-size="18.4" text-anchor="middle" fill="#111">CV</text>
<text x="373.5" y="784" font-size="18.4" text-anchor="middle" fill="#111">rest</text>
<text x="652" y="784" font-size="18.4" text-anchor="middle" fill="#111">6 C CC</text>
<text x="733" y="784" font-size="18.4" text-anchor="middle" fill="#111">CV</text>
<text x="801" y="784" font-size="18.4" text-anchor="middle" fill="#111">rest</text>
<text x="47.3" y="625.5" font-size="14" text-anchor="start" fill="#111">2.0</text>
<text x="47.3" y="668.3" font-size="14" text-anchor="start" fill="#111">1.8</text>
<text x="47.3" y="711.3" font-size="14" text-anchor="start" fill="#111">1.6</text>
<text x="47.3" y="754.4" font-size="14" text-anchor="start" fill="#111">1.4</text>
<text x="47.3" y="797.2" font-size="14" text-anchor="start" fill="#111">1.2</text>
<text x="18.3" y="707.5" font-size="18.4" text-anchor="middle" fill="#111" transform="rotate(-90 18.3 707.5)">Intensity (V)</text>
<text x="212.3" y="88.6" font-size="18.4" text-anchor="start" fill="#111">Transducer</text>
<text x="232.6" y="232.2" font-size="18.4" text-anchor="start" fill="#111">Scan by frame</text>
<text x="351.2" y="65.6" font-size="18.4" text-anchor="middle" fill="#111" transform="rotate(-90 351.2 65.6)">Intensity (V)</text>
<text x="469.5" y="135.7" font-size="18.4" text-anchor="middle" fill="#111">Time (μs)</text>
<text x="387.4" y="176.7" font-size="18.4" text-anchor="middle" fill="#111" transform="rotate(-90 387.4 176.7)">Transmitting</text>
<text x="462" y="329" font-size="18.4" text-anchor="middle" fill="#111">Ultrasonic imaging</text>
<text x="831.7" y="176.5" font-size="18.4" text-anchor="start" fill="#111">Ultrasonic</text>
<text x="831.7" y="198.6" font-size="18.4" text-anchor="start" fill="#111">testing area</text>
<text x="743" y="115" font-size="15.5" text-anchor="end" fill="#111">0</text>
<text x="743" y="161.3" font-size="15.5" text-anchor="end" fill="#111">15</text>
<text x="743" y="206.6" font-size="15.5" text-anchor="end" fill="#111">30</text>
<text x="743" y="252.9" font-size="15.5" text-anchor="end" fill="#111">45</text>
<text x="752" y="313.6" font-size="15.5" text-anchor="middle" fill="#111">0</text>
<text x="785" y="313.6" font-size="15.5" text-anchor="middle" fill="#111">10</text>
<text x="778" y="328.2" font-size="18.4" text-anchor="middle" fill="#111">Scale (mm)</text>
<text x="716.5" y="178.5" font-size="18.4" text-anchor="middle" fill="#111" transform="rotate(-90 716.5 178.5)">Scale (mm)</text>
</svg>
</body></html>
